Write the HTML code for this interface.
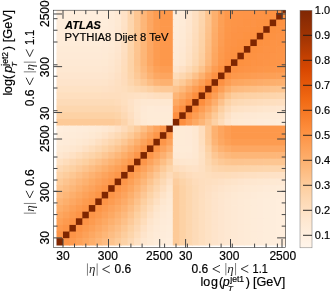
<!DOCTYPE html>
<html><head><meta charset="utf-8"><title>corr</title>
<style>
html,body{margin:0;padding:0;background:#fff;}
body{width:332px;height:293px;overflow:hidden;font-family:"Liberation Sans",sans-serif;}
svg{display:block;will-change:transform;}
svg text{font-family:"Liberation Sans",sans-serif;stroke:#000;stroke-width:0.18px;}
.it{font-style:italic;}
svg text.eta{font-family:"Liberation Serif",serif;font-style:italic;stroke:none;}
</style></head><body>
<svg width="332" height="293" viewBox="0 0 332 293" font-size="11" fill="#000">
<rect x="0" y="0" width="332" height="293" fill="#ffffff"/>
<defs><clipPath id="fc"><rect x="53.50" y="10.20" width="232.20" height="237.40"/></clipPath>
<filter id="bl" x="-5%" y="-5%" width="110%" height="110%"><feGaussianBlur stdDeviation="0.45"/></filter><linearGradient id="cb" x1="0" y1="0" x2="0" y2="1"><stop offset="0.0000" stop-color="#7f2704"/><stop offset="0.0250" stop-color="#872a04"/><stop offset="0.0500" stop-color="#8f2d04"/><stop offset="0.0750" stop-color="#963003"/><stop offset="0.1000" stop-color="#9e3303"/><stop offset="0.1250" stop-color="#a63603"/><stop offset="0.1500" stop-color="#b03a03"/><stop offset="0.1750" stop-color="#ba3d02"/><stop offset="0.2000" stop-color="#c54102"/><stop offset="0.2250" stop-color="#cf4401"/><stop offset="0.2500" stop-color="#d94801"/><stop offset="0.2750" stop-color="#de4f05"/><stop offset="0.3000" stop-color="#e35508"/><stop offset="0.3250" stop-color="#e75c0c"/><stop offset="0.3500" stop-color="#ec620f"/><stop offset="0.3750" stop-color="#f16913"/><stop offset="0.4000" stop-color="#f3701b"/><stop offset="0.4250" stop-color="#f67723"/><stop offset="0.4500" stop-color="#f87f2c"/><stop offset="0.4750" stop-color="#fb8634"/><stop offset="0.5000" stop-color="#fd8d3c"/><stop offset="0.5250" stop-color="#fd9445"/><stop offset="0.5500" stop-color="#fd9a4f"/><stop offset="0.5750" stop-color="#fda158"/><stop offset="0.6000" stop-color="#fda762"/><stop offset="0.6250" stop-color="#fdae6b"/><stop offset="0.6500" stop-color="#fdb576"/><stop offset="0.6750" stop-color="#fdbc81"/><stop offset="0.7000" stop-color="#fdc28c"/><stop offset="0.7250" stop-color="#fdc997"/><stop offset="0.7500" stop-color="#fdd0a2"/><stop offset="0.7750" stop-color="#fdd4ab"/><stop offset="0.8000" stop-color="#fdd9b4"/><stop offset="0.8250" stop-color="#feddbc"/><stop offset="0.8500" stop-color="#fee2c5"/><stop offset="0.8750" stop-color="#fee6ce"/><stop offset="0.9000" stop-color="#fee9d4"/><stop offset="0.9250" stop-color="#feecda"/><stop offset="0.9500" stop-color="#ffefdf"/><stop offset="0.9750" stop-color="#fff2e5"/><stop offset="1.0000" stop-color="#fff5eb"/></linearGradient></defs>
<g clip-path="url(#fc)"><g filter="url(#bl)">
<rect x="56.50" y="6.30" width="45.93" height="7.33" fill="#ffeedd"/><rect x="101.73" y="6.30" width="7.16" height="7.33" fill="#feeddc"/><rect x="108.19" y="6.30" width="7.16" height="7.33" fill="#feecda"/><rect x="114.65" y="6.30" width="7.16" height="7.33" fill="#fee9d4"/><rect x="121.11" y="6.30" width="7.16" height="7.33" fill="#fee3c7"/><rect x="127.57" y="6.30" width="7.16" height="7.33" fill="#fdd6af"/><rect x="134.03" y="6.30" width="7.16" height="7.33" fill="#fdc693"/><rect x="140.49" y="6.30" width="7.16" height="7.33" fill="#fdb679"/><rect x="146.95" y="6.30" width="7.16" height="7.33" fill="#fda762"/><rect x="153.42" y="6.30" width="7.16" height="7.33" fill="#fd9c51"/><rect x="159.88" y="6.30" width="13.62" height="7.33" fill="#fd984c"/><rect x="172.80" y="6.30" width="7.16" height="7.33" fill="#feeddc"/><rect x="179.26" y="6.30" width="7.16" height="7.33" fill="#feecd9"/><rect x="185.72" y="6.30" width="7.16" height="7.33" fill="#fee7d1"/><rect x="192.18" y="6.30" width="7.16" height="7.33" fill="#fee0c2"/><rect x="198.64" y="6.30" width="7.16" height="7.33" fill="#fdd6af"/><rect x="205.10" y="6.30" width="7.16" height="7.33" fill="#fdc692"/><rect x="211.56" y="6.30" width="7.16" height="7.33" fill="#fdb170"/><rect x="218.03" y="6.30" width="7.16" height="7.33" fill="#fda25a"/><rect x="224.49" y="6.30" width="7.16" height="7.33" fill="#fd994d"/><rect x="230.95" y="6.30" width="7.16" height="7.33" fill="#fd9649"/><rect x="237.41" y="6.30" width="7.16" height="7.33" fill="#fd9548"/><rect x="243.87" y="6.30" width="7.16" height="7.33" fill="#fd9547"/><rect x="250.33" y="6.30" width="7.16" height="7.33" fill="#fd9446"/><rect x="256.79" y="6.30" width="7.16" height="7.33" fill="#fd9345"/><rect x="263.25" y="6.30" width="7.16" height="7.33" fill="#fd9344"/><rect x="269.71" y="6.30" width="7.16" height="7.33" fill="#fd9243"/><rect x="276.17" y="6.30" width="7.16" height="7.33" fill="#fd9141"/><rect x="282.63" y="6.30" width="7.16" height="7.33" fill="#7f2704"/>
<rect x="56.50" y="12.93" width="45.93" height="7.33" fill="#ffeedd"/><rect x="101.73" y="12.93" width="7.16" height="7.33" fill="#feeddc"/><rect x="108.19" y="12.93" width="7.16" height="7.33" fill="#feecd9"/><rect x="114.65" y="12.93" width="7.16" height="7.33" fill="#fee9d4"/><rect x="121.11" y="12.93" width="7.16" height="7.33" fill="#fee2c7"/><rect x="127.57" y="12.93" width="7.16" height="7.33" fill="#fdd6ae"/><rect x="134.03" y="12.93" width="7.16" height="7.33" fill="#fdc692"/><rect x="140.49" y="12.93" width="7.16" height="7.33" fill="#fdb679"/><rect x="146.95" y="12.93" width="7.16" height="7.33" fill="#fda762"/><rect x="153.42" y="12.93" width="7.16" height="7.33" fill="#fd9c51"/><rect x="159.88" y="12.93" width="13.62" height="7.33" fill="#fd984c"/><rect x="172.80" y="12.93" width="7.16" height="7.33" fill="#feeddb"/><rect x="179.26" y="12.93" width="7.16" height="7.33" fill="#feebd8"/><rect x="185.72" y="12.93" width="7.16" height="7.33" fill="#fee7d0"/><rect x="192.18" y="12.93" width="7.16" height="7.33" fill="#fedfc1"/><rect x="198.64" y="12.93" width="7.16" height="7.33" fill="#fdd6ae"/><rect x="205.10" y="12.93" width="7.16" height="7.33" fill="#fdc590"/><rect x="211.56" y="12.93" width="7.16" height="7.33" fill="#fdb06e"/><rect x="218.03" y="12.93" width="7.16" height="7.33" fill="#fda159"/><rect x="224.49" y="12.93" width="7.16" height="7.33" fill="#fd984c"/><rect x="230.95" y="12.93" width="7.16" height="7.33" fill="#fd9548"/><rect x="237.41" y="12.93" width="7.16" height="7.33" fill="#fd9547"/><rect x="243.87" y="12.93" width="7.16" height="7.33" fill="#fd9446"/><rect x="250.33" y="12.93" width="7.16" height="7.33" fill="#fd9345"/><rect x="256.79" y="12.93" width="7.16" height="7.33" fill="#fd9344"/><rect x="263.25" y="12.93" width="7.16" height="7.33" fill="#fd9243"/><rect x="269.71" y="12.93" width="7.16" height="7.33" fill="#fd9141"/><rect x="276.17" y="12.93" width="7.16" height="7.33" fill="#7f2704"/><rect x="282.63" y="12.93" width="7.16" height="7.33" fill="#fd9141"/>
<rect x="56.50" y="19.55" width="45.93" height="7.33" fill="#feeddc"/><rect x="101.73" y="19.55" width="7.16" height="7.33" fill="#feeddb"/><rect x="108.19" y="19.55" width="7.16" height="7.33" fill="#feebd8"/><rect x="114.65" y="19.55" width="7.16" height="7.33" fill="#fee9d3"/><rect x="121.11" y="19.55" width="7.16" height="7.33" fill="#fee2c6"/><rect x="127.57" y="19.55" width="7.16" height="7.33" fill="#fdd6ae"/><rect x="134.03" y="19.55" width="7.16" height="7.33" fill="#fdc692"/><rect x="140.49" y="19.55" width="7.16" height="7.33" fill="#fdb678"/><rect x="146.95" y="19.55" width="7.16" height="7.33" fill="#fda762"/><rect x="153.42" y="19.55" width="7.16" height="7.33" fill="#fd9c51"/><rect x="159.88" y="19.55" width="13.62" height="7.33" fill="#fd984c"/><rect x="172.80" y="19.55" width="7.16" height="7.33" fill="#feecda"/><rect x="179.26" y="19.55" width="7.16" height="7.33" fill="#feebd7"/><rect x="185.72" y="19.55" width="7.16" height="7.33" fill="#fee6cf"/><rect x="192.18" y="19.55" width="7.16" height="7.33" fill="#fedfbf"/><rect x="198.64" y="19.55" width="7.16" height="7.33" fill="#fdd5ac"/><rect x="205.10" y="19.55" width="7.16" height="7.33" fill="#fdc48e"/><rect x="211.56" y="19.55" width="7.16" height="7.33" fill="#fdaf6d"/><rect x="218.03" y="19.55" width="7.16" height="7.33" fill="#fda057"/><rect x="224.49" y="19.55" width="7.16" height="7.33" fill="#fd974b"/><rect x="230.95" y="19.55" width="7.16" height="7.33" fill="#fd9547"/><rect x="237.41" y="19.55" width="7.16" height="7.33" fill="#fd9446"/><rect x="243.87" y="19.55" width="7.16" height="7.33" fill="#fd9345"/><rect x="250.33" y="19.55" width="7.16" height="7.33" fill="#fd9344"/><rect x="256.79" y="19.55" width="7.16" height="7.33" fill="#fd9243"/><rect x="263.25" y="19.55" width="7.16" height="7.33" fill="#fd9141"/><rect x="269.71" y="19.55" width="7.16" height="7.33" fill="#7f2704"/><rect x="276.17" y="19.55" width="7.16" height="7.33" fill="#fd9141"/><rect x="282.63" y="19.55" width="7.16" height="7.33" fill="#fd9243"/>
<rect x="56.50" y="26.18" width="45.93" height="7.33" fill="#feeddb"/><rect x="101.73" y="26.18" width="7.16" height="7.33" fill="#feecda"/><rect x="108.19" y="26.18" width="7.16" height="7.33" fill="#feebd8"/><rect x="114.65" y="26.18" width="7.16" height="7.33" fill="#fee8d2"/><rect x="121.11" y="26.18" width="7.16" height="7.33" fill="#fee1c5"/><rect x="127.57" y="26.18" width="7.16" height="7.33" fill="#fdd6ad"/><rect x="134.03" y="26.18" width="7.16" height="7.33" fill="#fdc691"/><rect x="140.49" y="26.18" width="7.16" height="7.33" fill="#fdb678"/><rect x="146.95" y="26.18" width="7.16" height="7.33" fill="#fda762"/><rect x="153.42" y="26.18" width="7.16" height="7.33" fill="#fd9c51"/><rect x="159.88" y="26.18" width="13.62" height="7.33" fill="#fd984c"/><rect x="172.80" y="26.18" width="7.16" height="7.33" fill="#feecd9"/><rect x="179.26" y="26.18" width="7.16" height="7.33" fill="#feead6"/><rect x="185.72" y="26.18" width="7.16" height="7.33" fill="#fee6ce"/><rect x="192.18" y="26.18" width="7.16" height="7.33" fill="#fedebe"/><rect x="198.64" y="26.18" width="7.16" height="7.33" fill="#fdd4aa"/><rect x="205.10" y="26.18" width="7.16" height="7.33" fill="#fdc28c"/><rect x="211.56" y="26.18" width="7.16" height="7.33" fill="#fdae6b"/><rect x="218.03" y="26.18" width="7.16" height="7.33" fill="#fd9f56"/><rect x="224.49" y="26.18" width="7.16" height="7.33" fill="#fd974a"/><rect x="230.95" y="26.18" width="7.16" height="7.33" fill="#fd9446"/><rect x="237.41" y="26.18" width="7.16" height="7.33" fill="#fd9345"/><rect x="243.87" y="26.18" width="7.16" height="7.33" fill="#fd9344"/><rect x="250.33" y="26.18" width="7.16" height="7.33" fill="#fd9243"/><rect x="256.79" y="26.18" width="7.16" height="7.33" fill="#fd9141"/><rect x="263.25" y="26.18" width="7.16" height="7.33" fill="#7f2704"/><rect x="269.71" y="26.18" width="7.16" height="7.33" fill="#fd9141"/><rect x="276.17" y="26.18" width="7.16" height="7.33" fill="#fd9243"/><rect x="282.63" y="26.18" width="7.16" height="7.33" fill="#fd9344"/>
<rect x="56.50" y="32.80" width="45.93" height="7.33" fill="#feecda"/><rect x="101.73" y="32.80" width="7.16" height="7.33" fill="#feecd9"/><rect x="108.19" y="32.80" width="7.16" height="7.33" fill="#feead6"/><rect x="114.65" y="32.80" width="7.16" height="7.33" fill="#fee8d1"/><rect x="121.11" y="32.80" width="7.16" height="7.33" fill="#fee1c4"/><rect x="127.57" y="32.80" width="7.16" height="7.33" fill="#fdd5ac"/><rect x="134.03" y="32.80" width="7.16" height="7.33" fill="#fdc591"/><rect x="140.49" y="32.80" width="7.16" height="7.33" fill="#fdb678"/><rect x="146.95" y="32.80" width="7.16" height="7.33" fill="#fda762"/><rect x="153.42" y="32.80" width="7.16" height="7.33" fill="#fd9c51"/><rect x="159.88" y="32.80" width="13.62" height="7.33" fill="#fd984c"/><rect x="172.80" y="32.80" width="7.16" height="7.33" fill="#feebd9"/><rect x="179.26" y="32.80" width="7.16" height="7.33" fill="#feead5"/><rect x="185.72" y="32.80" width="7.16" height="7.33" fill="#fee5cc"/><rect x="192.18" y="32.80" width="7.16" height="7.33" fill="#feddbc"/><rect x="198.64" y="32.80" width="7.16" height="7.33" fill="#fdd3a8"/><rect x="205.10" y="32.80" width="7.16" height="7.33" fill="#fdc189"/><rect x="211.56" y="32.80" width="7.16" height="7.33" fill="#fdac69"/><rect x="218.03" y="32.80" width="7.16" height="7.33" fill="#fd9e54"/><rect x="224.49" y="32.80" width="7.16" height="7.33" fill="#fd9649"/><rect x="230.95" y="32.80" width="7.16" height="7.33" fill="#fd9345"/><rect x="237.41" y="32.80" width="7.16" height="7.33" fill="#fd9344"/><rect x="243.87" y="32.80" width="7.16" height="7.33" fill="#fd9243"/><rect x="250.33" y="32.80" width="7.16" height="7.33" fill="#fd9141"/><rect x="256.79" y="32.80" width="7.16" height="7.33" fill="#7f2704"/><rect x="263.25" y="32.80" width="7.16" height="7.33" fill="#fd9141"/><rect x="269.71" y="32.80" width="7.16" height="7.33" fill="#fd9243"/><rect x="276.17" y="32.80" width="7.16" height="7.33" fill="#fd9344"/><rect x="282.63" y="32.80" width="7.16" height="7.33" fill="#fd9345"/>
<rect x="56.50" y="39.43" width="45.93" height="7.33" fill="#feecd9"/><rect x="101.73" y="39.43" width="7.16" height="7.33" fill="#feebd8"/><rect x="108.19" y="39.43" width="7.16" height="7.33" fill="#feead5"/><rect x="114.65" y="39.43" width="7.16" height="7.33" fill="#fee7d0"/><rect x="121.11" y="39.43" width="7.16" height="7.33" fill="#fee0c2"/><rect x="127.57" y="39.43" width="7.16" height="7.33" fill="#fdd5ab"/><rect x="134.03" y="39.43" width="7.16" height="7.33" fill="#fdc590"/><rect x="140.49" y="39.43" width="7.16" height="7.33" fill="#fdb678"/><rect x="146.95" y="39.43" width="7.16" height="7.33" fill="#fda762"/><rect x="153.42" y="39.43" width="7.16" height="7.33" fill="#fd9c51"/><rect x="159.88" y="39.43" width="13.62" height="7.33" fill="#fd984c"/><rect x="172.80" y="39.43" width="7.16" height="7.33" fill="#feebd7"/><rect x="179.26" y="39.43" width="7.16" height="7.33" fill="#fee9d4"/><rect x="185.72" y="39.43" width="7.16" height="7.33" fill="#fee4ca"/><rect x="192.18" y="39.43" width="7.16" height="7.33" fill="#fedcba"/><rect x="198.64" y="39.43" width="7.16" height="7.33" fill="#fdd2a6"/><rect x="205.10" y="39.43" width="7.16" height="7.33" fill="#fdbf86"/><rect x="211.56" y="39.43" width="7.16" height="7.33" fill="#fdab66"/><rect x="218.03" y="39.43" width="7.16" height="7.33" fill="#fd9d52"/><rect x="224.49" y="39.43" width="7.16" height="7.33" fill="#fd9547"/><rect x="230.95" y="39.43" width="7.16" height="7.33" fill="#fd9344"/><rect x="237.41" y="39.43" width="7.16" height="7.33" fill="#fd9243"/><rect x="243.87" y="39.43" width="7.16" height="7.33" fill="#fd9141"/><rect x="250.33" y="39.43" width="7.16" height="7.33" fill="#7f2704"/><rect x="256.79" y="39.43" width="7.16" height="7.33" fill="#fd9141"/><rect x="263.25" y="39.43" width="7.16" height="7.33" fill="#fd9243"/><rect x="269.71" y="39.43" width="7.16" height="7.33" fill="#fd9344"/><rect x="276.17" y="39.43" width="7.16" height="7.33" fill="#fd9345"/><rect x="282.63" y="39.43" width="7.16" height="7.33" fill="#fd9446"/>
<rect x="56.50" y="46.05" width="45.93" height="7.33" fill="#feebd7"/><rect x="101.73" y="46.05" width="7.16" height="7.33" fill="#feead6"/><rect x="108.19" y="46.05" width="7.16" height="7.33" fill="#fee9d4"/><rect x="114.65" y="46.05" width="7.16" height="7.33" fill="#fee6cf"/><rect x="121.11" y="46.05" width="7.16" height="7.33" fill="#fedfc1"/><rect x="127.57" y="46.05" width="7.16" height="7.33" fill="#fdd4aa"/><rect x="134.03" y="46.05" width="7.16" height="7.33" fill="#fdc590"/><rect x="140.49" y="46.05" width="7.16" height="7.33" fill="#fdb678"/><rect x="146.95" y="46.05" width="7.16" height="7.33" fill="#fda762"/><rect x="153.42" y="46.05" width="7.16" height="7.33" fill="#fd9c51"/><rect x="159.88" y="46.05" width="13.62" height="7.33" fill="#fd984c"/><rect x="172.80" y="46.05" width="7.16" height="7.33" fill="#feead6"/><rect x="179.26" y="46.05" width="7.16" height="7.33" fill="#fee8d3"/><rect x="185.72" y="46.05" width="7.16" height="7.33" fill="#fee3c8"/><rect x="192.18" y="46.05" width="7.16" height="7.33" fill="#fddbb8"/><rect x="198.64" y="46.05" width="7.16" height="7.33" fill="#fdd1a4"/><rect x="205.10" y="46.05" width="7.16" height="7.33" fill="#fdbd83"/><rect x="211.56" y="46.05" width="7.16" height="7.33" fill="#fda964"/><rect x="218.03" y="46.05" width="7.16" height="7.33" fill="#fd9b50"/><rect x="224.49" y="46.05" width="7.16" height="7.33" fill="#fd9446"/><rect x="230.95" y="46.05" width="7.16" height="7.33" fill="#fd9243"/><rect x="237.41" y="46.05" width="7.16" height="7.33" fill="#fd9141"/><rect x="243.87" y="46.05" width="7.16" height="7.33" fill="#7f2704"/><rect x="250.33" y="46.05" width="7.16" height="7.33" fill="#fd9141"/><rect x="256.79" y="46.05" width="7.16" height="7.33" fill="#fd9243"/><rect x="263.25" y="46.05" width="7.16" height="7.33" fill="#fd9344"/><rect x="269.71" y="46.05" width="7.16" height="7.33" fill="#fd9345"/><rect x="276.17" y="46.05" width="7.16" height="7.33" fill="#fd9446"/><rect x="282.63" y="46.05" width="7.16" height="7.33" fill="#fd9547"/>
<rect x="56.50" y="52.68" width="45.93" height="7.33" fill="#feead6"/><rect x="101.73" y="52.68" width="7.16" height="7.33" fill="#feead5"/><rect x="108.19" y="52.68" width="7.16" height="7.33" fill="#fee8d2"/><rect x="114.65" y="52.68" width="7.16" height="7.33" fill="#fee5cd"/><rect x="121.11" y="52.68" width="7.16" height="7.33" fill="#fedebf"/><rect x="127.57" y="52.68" width="7.16" height="7.33" fill="#fdd4a9"/><rect x="134.03" y="52.68" width="7.16" height="7.33" fill="#fdc48f"/><rect x="140.49" y="52.68" width="7.16" height="7.33" fill="#fdb678"/><rect x="146.95" y="52.68" width="7.16" height="7.33" fill="#fda762"/><rect x="153.42" y="52.68" width="7.16" height="7.33" fill="#fd9c51"/><rect x="159.88" y="52.68" width="13.62" height="7.33" fill="#fd984c"/><rect x="172.80" y="52.68" width="7.16" height="7.33" fill="#feead5"/><rect x="179.26" y="52.68" width="7.16" height="7.33" fill="#fee8d1"/><rect x="185.72" y="52.68" width="7.16" height="7.33" fill="#fee2c6"/><rect x="192.18" y="52.68" width="7.16" height="7.33" fill="#fddab5"/><rect x="198.64" y="52.68" width="7.16" height="7.33" fill="#fdcfa1"/><rect x="205.10" y="52.68" width="7.16" height="7.33" fill="#fdbb80"/><rect x="211.56" y="52.68" width="7.16" height="7.33" fill="#fda761"/><rect x="218.03" y="52.68" width="7.16" height="7.33" fill="#fd9a4e"/><rect x="224.49" y="52.68" width="7.16" height="7.33" fill="#fd9344"/><rect x="230.95" y="52.68" width="7.16" height="7.33" fill="#fd9141"/><rect x="237.41" y="52.68" width="7.16" height="7.33" fill="#7f2704"/><rect x="243.87" y="52.68" width="7.16" height="7.33" fill="#fd9141"/><rect x="250.33" y="52.68" width="7.16" height="7.33" fill="#fd9243"/><rect x="256.79" y="52.68" width="7.16" height="7.33" fill="#fd9344"/><rect x="263.25" y="52.68" width="7.16" height="7.33" fill="#fd9345"/><rect x="269.71" y="52.68" width="7.16" height="7.33" fill="#fd9446"/><rect x="276.17" y="52.68" width="7.16" height="7.33" fill="#fd9547"/><rect x="282.63" y="52.68" width="7.16" height="7.33" fill="#fd9548"/>
<rect x="56.50" y="59.30" width="45.93" height="7.33" fill="#fee9d4"/><rect x="101.73" y="59.30" width="7.16" height="7.33" fill="#fee9d3"/><rect x="108.19" y="59.30" width="7.16" height="7.33" fill="#fee7d0"/><rect x="114.65" y="59.30" width="7.16" height="7.33" fill="#fee4ca"/><rect x="121.11" y="59.30" width="7.16" height="7.33" fill="#feddbd"/><rect x="127.57" y="59.30" width="7.16" height="7.33" fill="#fdd3a8"/><rect x="134.03" y="59.30" width="7.16" height="7.33" fill="#fdc48e"/><rect x="140.49" y="59.30" width="7.16" height="7.33" fill="#fdb677"/><rect x="146.95" y="59.30" width="7.16" height="7.33" fill="#fda762"/><rect x="153.42" y="59.30" width="7.16" height="7.33" fill="#fd9c51"/><rect x="159.88" y="59.30" width="13.62" height="7.33" fill="#fd984c"/><rect x="172.80" y="59.30" width="7.16" height="7.33" fill="#fee9d4"/><rect x="179.26" y="59.30" width="7.16" height="7.33" fill="#fee7d0"/><rect x="185.72" y="59.30" width="7.16" height="7.33" fill="#fee1c3"/><rect x="192.18" y="59.30" width="7.16" height="7.33" fill="#fdd8b2"/><rect x="198.64" y="59.30" width="7.16" height="7.33" fill="#fdcd9d"/><rect x="205.10" y="59.30" width="7.16" height="7.33" fill="#fdb97c"/><rect x="211.56" y="59.30" width="7.16" height="7.33" fill="#fda55e"/><rect x="218.03" y="59.30" width="7.16" height="7.33" fill="#fd984b"/><rect x="224.49" y="59.30" width="7.16" height="7.33" fill="#fd9142"/><rect x="230.95" y="59.30" width="7.16" height="7.33" fill="#7f2704"/><rect x="237.41" y="59.30" width="7.16" height="7.33" fill="#fd9141"/><rect x="243.87" y="59.30" width="7.16" height="7.33" fill="#fd9243"/><rect x="250.33" y="59.30" width="7.16" height="7.33" fill="#fd9344"/><rect x="256.79" y="59.30" width="7.16" height="7.33" fill="#fd9345"/><rect x="263.25" y="59.30" width="7.16" height="7.33" fill="#fd9446"/><rect x="269.71" y="59.30" width="7.16" height="7.33" fill="#fd9547"/><rect x="276.17" y="59.30" width="7.16" height="7.33" fill="#fd9548"/><rect x="282.63" y="59.30" width="7.16" height="7.33" fill="#fd9649"/>
<rect x="56.50" y="65.93" width="45.93" height="7.33" fill="#fee8d2"/><rect x="101.73" y="65.93" width="7.16" height="7.33" fill="#fee7d1"/><rect x="108.19" y="65.93" width="7.16" height="7.33" fill="#fee6ce"/><rect x="114.65" y="65.93" width="7.16" height="7.33" fill="#fee3c8"/><rect x="121.11" y="65.93" width="7.16" height="7.33" fill="#feddbb"/><rect x="127.57" y="65.93" width="7.16" height="7.33" fill="#fdd3a8"/><rect x="134.03" y="65.93" width="7.16" height="7.33" fill="#fdc691"/><rect x="140.49" y="65.93" width="7.16" height="7.33" fill="#fdb97d"/><rect x="146.95" y="65.93" width="7.16" height="7.33" fill="#fdac68"/><rect x="153.42" y="65.93" width="7.16" height="7.33" fill="#fda158"/><rect x="159.88" y="65.93" width="13.62" height="7.33" fill="#fd9d53"/><rect x="172.80" y="65.93" width="7.16" height="7.33" fill="#fee5cc"/><rect x="179.26" y="65.93" width="7.16" height="7.33" fill="#fee1c5"/><rect x="185.72" y="65.93" width="7.16" height="7.33" fill="#fddab7"/><rect x="192.18" y="65.93" width="7.16" height="7.33" fill="#fdd2a5"/><rect x="198.64" y="65.93" width="7.16" height="7.33" fill="#fdc38c"/><rect x="205.10" y="65.93" width="7.16" height="7.33" fill="#fdaf6c"/><rect x="211.56" y="65.93" width="7.16" height="7.33" fill="#fd9d53"/><rect x="218.03" y="65.93" width="7.16" height="7.33" fill="#fd9243"/><rect x="224.49" y="65.93" width="7.16" height="7.33" fill="#7f2704"/><rect x="230.95" y="65.93" width="7.16" height="7.33" fill="#fd9142"/><rect x="237.41" y="65.93" width="7.16" height="7.33" fill="#fd9344"/><rect x="243.87" y="65.93" width="7.16" height="7.33" fill="#fd9446"/><rect x="250.33" y="65.93" width="7.16" height="7.33" fill="#fd9547"/><rect x="256.79" y="65.93" width="7.16" height="7.33" fill="#fd9649"/><rect x="263.25" y="65.93" width="7.16" height="7.33" fill="#fd974a"/><rect x="269.71" y="65.93" width="7.16" height="7.33" fill="#fd974b"/><rect x="276.17" y="65.93" width="7.16" height="7.33" fill="#fd984c"/><rect x="282.63" y="65.93" width="7.16" height="7.33" fill="#fd994d"/>
<rect x="56.50" y="72.55" width="45.93" height="7.33" fill="#fee6cf"/><rect x="101.73" y="72.55" width="7.16" height="7.33" fill="#fee6ce"/><rect x="108.19" y="72.55" width="7.16" height="7.33" fill="#fee4cb"/><rect x="114.65" y="72.55" width="7.16" height="7.33" fill="#fee1c5"/><rect x="121.11" y="72.55" width="7.16" height="7.33" fill="#fedcbb"/><rect x="127.57" y="72.55" width="7.16" height="7.33" fill="#fdd4aa"/><rect x="134.03" y="72.55" width="7.16" height="7.33" fill="#fdc997"/><rect x="140.49" y="72.55" width="7.16" height="7.33" fill="#fdbe86"/><rect x="146.95" y="72.55" width="7.16" height="7.33" fill="#fdb272"/><rect x="153.42" y="72.55" width="7.16" height="7.33" fill="#fda863"/><rect x="159.88" y="72.55" width="13.62" height="7.33" fill="#fda55e"/><rect x="172.80" y="72.55" width="7.16" height="7.33" fill="#fedcb9"/><rect x="179.26" y="72.55" width="7.16" height="7.33" fill="#fdd7b0"/><rect x="185.72" y="72.55" width="7.16" height="7.33" fill="#fdcfa1"/><rect x="192.18" y="72.55" width="7.16" height="7.33" fill="#fdc18a"/><rect x="198.64" y="72.55" width="7.16" height="7.33" fill="#fdb170"/><rect x="205.10" y="72.55" width="7.16" height="7.33" fill="#fd9f56"/><rect x="211.56" y="72.55" width="7.16" height="7.33" fill="#fd9142"/><rect x="218.03" y="72.55" width="7.16" height="7.33" fill="#7f2704"/><rect x="224.49" y="72.55" width="7.16" height="7.33" fill="#fd9243"/><rect x="230.95" y="72.55" width="7.16" height="7.33" fill="#fd984b"/><rect x="237.41" y="72.55" width="7.16" height="7.33" fill="#fd9a4e"/><rect x="243.87" y="72.55" width="7.16" height="7.33" fill="#fd9b50"/><rect x="250.33" y="72.55" width="7.16" height="7.33" fill="#fd9d52"/><rect x="256.79" y="72.55" width="7.16" height="7.33" fill="#fd9e54"/><rect x="263.25" y="72.55" width="7.16" height="7.33" fill="#fd9f56"/><rect x="269.71" y="72.55" width="7.16" height="7.33" fill="#fda057"/><rect x="276.17" y="72.55" width="7.16" height="7.33" fill="#fda159"/><rect x="282.63" y="72.55" width="7.16" height="7.33" fill="#fda25a"/>
<rect x="56.50" y="79.18" width="45.93" height="7.33" fill="#fee4cb"/><rect x="101.73" y="79.18" width="7.16" height="7.33" fill="#fee4ca"/><rect x="108.19" y="79.18" width="7.16" height="7.33" fill="#fee2c7"/><rect x="114.65" y="79.18" width="7.16" height="7.33" fill="#fee0c2"/><rect x="121.11" y="79.18" width="7.16" height="7.33" fill="#fedcbb"/><rect x="127.57" y="79.18" width="7.16" height="7.33" fill="#fdd6ae"/><rect x="134.03" y="79.18" width="7.16" height="7.33" fill="#fdcfa1"/><rect x="140.49" y="79.18" width="7.16" height="7.33" fill="#fdc793"/><rect x="146.95" y="79.18" width="7.16" height="7.33" fill="#fdbd83"/><rect x="153.42" y="79.18" width="7.16" height="7.33" fill="#fdb475"/><rect x="159.88" y="79.18" width="13.62" height="7.33" fill="#fdb170"/><rect x="172.80" y="79.18" width="7.16" height="7.33" fill="#fdd1a5"/><rect x="179.26" y="79.18" width="7.16" height="7.33" fill="#fdca98"/><rect x="185.72" y="79.18" width="7.16" height="7.33" fill="#fdbd83"/><rect x="192.18" y="79.18" width="7.16" height="7.33" fill="#fdae6c"/><rect x="198.64" y="79.18" width="7.16" height="7.33" fill="#fd9f56"/><rect x="205.10" y="79.18" width="7.16" height="7.33" fill="#fd9040"/><rect x="211.56" y="79.18" width="7.16" height="7.33" fill="#7f2704"/><rect x="218.03" y="79.18" width="7.16" height="7.33" fill="#fd9142"/><rect x="224.49" y="79.18" width="7.16" height="7.33" fill="#fd9d53"/><rect x="230.95" y="79.18" width="7.16" height="7.33" fill="#fda55e"/><rect x="237.41" y="79.18" width="7.16" height="7.33" fill="#fda761"/><rect x="243.87" y="79.18" width="7.16" height="7.33" fill="#fda964"/><rect x="250.33" y="79.18" width="7.16" height="7.33" fill="#fdab66"/><rect x="256.79" y="79.18" width="7.16" height="7.33" fill="#fdac69"/><rect x="263.25" y="79.18" width="7.16" height="7.33" fill="#fdae6b"/><rect x="269.71" y="79.18" width="7.16" height="7.33" fill="#fdaf6d"/><rect x="276.17" y="79.18" width="7.16" height="7.33" fill="#fdb06e"/><rect x="282.63" y="79.18" width="7.16" height="7.33" fill="#fdb170"/>
<rect x="56.50" y="85.80" width="45.93" height="7.33" fill="#fee2c5"/><rect x="101.73" y="85.80" width="7.16" height="7.33" fill="#fee1c5"/><rect x="108.19" y="85.80" width="7.16" height="7.33" fill="#fee0c3"/><rect x="114.65" y="85.80" width="7.16" height="7.33" fill="#fedfc0"/><rect x="121.11" y="85.80" width="7.16" height="7.33" fill="#fedebd"/><rect x="127.57" y="85.80" width="7.16" height="7.33" fill="#fddbb7"/><rect x="134.03" y="85.80" width="7.16" height="7.33" fill="#fdd8b1"/><rect x="140.49" y="85.80" width="7.16" height="7.33" fill="#fdd5ac"/><rect x="146.95" y="85.80" width="7.16" height="7.33" fill="#fdd1a4"/><rect x="153.42" y="85.80" width="7.16" height="7.33" fill="#fdcb9a"/><rect x="159.88" y="85.80" width="13.62" height="7.33" fill="#fdc997"/><rect x="172.80" y="85.80" width="7.16" height="7.33" fill="#fdc38c"/><rect x="179.26" y="85.80" width="7.16" height="7.33" fill="#fdb97c"/><rect x="185.72" y="85.80" width="7.16" height="7.33" fill="#fdab67"/><rect x="192.18" y="85.80" width="7.16" height="7.33" fill="#fd9d53"/><rect x="198.64" y="85.80" width="7.16" height="7.33" fill="#fd8f3e"/><rect x="205.10" y="85.80" width="7.16" height="7.33" fill="#7f2704"/><rect x="211.56" y="85.80" width="7.16" height="7.33" fill="#fd9040"/><rect x="218.03" y="85.80" width="7.16" height="7.33" fill="#fd9f56"/><rect x="224.49" y="85.80" width="7.16" height="7.33" fill="#fdaf6c"/><rect x="230.95" y="85.80" width="7.16" height="7.33" fill="#fdb97c"/><rect x="237.41" y="85.80" width="7.16" height="7.33" fill="#fdbb80"/><rect x="243.87" y="85.80" width="7.16" height="7.33" fill="#fdbd83"/><rect x="250.33" y="85.80" width="7.16" height="7.33" fill="#fdbf86"/><rect x="256.79" y="85.80" width="7.16" height="7.33" fill="#fdc189"/><rect x="263.25" y="85.80" width="7.16" height="7.33" fill="#fdc28c"/><rect x="269.71" y="85.80" width="7.16" height="7.33" fill="#fdc48e"/><rect x="276.17" y="85.80" width="7.16" height="7.33" fill="#fdc590"/><rect x="282.63" y="85.80" width="7.16" height="7.33" fill="#fdc692"/>
<rect x="56.50" y="92.43" width="45.93" height="7.33" fill="#fedfbf"/><rect x="101.73" y="92.43" width="7.16" height="7.33" fill="#fedebf"/><rect x="108.19" y="92.43" width="13.62" height="7.33" fill="#fedebe"/><rect x="121.11" y="92.43" width="7.16" height="7.33" fill="#fedfc0"/><rect x="127.57" y="92.43" width="7.16" height="7.33" fill="#fee0c2"/><rect x="134.03" y="92.43" width="7.16" height="7.33" fill="#fee1c4"/><rect x="140.49" y="92.43" width="7.16" height="7.33" fill="#fee2c5"/><rect x="146.95" y="92.43" width="7.16" height="7.33" fill="#fee0c3"/><rect x="153.42" y="92.43" width="7.16" height="7.33" fill="#fedfbf"/><rect x="159.88" y="92.43" width="13.62" height="7.33" fill="#fedebe"/><rect x="172.80" y="92.43" width="7.16" height="7.33" fill="#fdb576"/><rect x="179.26" y="92.43" width="7.16" height="7.33" fill="#fdaa65"/><rect x="185.72" y="92.43" width="7.16" height="7.33" fill="#fd9d52"/><rect x="192.18" y="92.43" width="7.16" height="7.33" fill="#fd8e3e"/><rect x="198.64" y="92.43" width="7.16" height="7.33" fill="#7f2704"/><rect x="205.10" y="92.43" width="7.16" height="7.33" fill="#fd8f3e"/><rect x="211.56" y="92.43" width="7.16" height="7.33" fill="#fd9f56"/><rect x="218.03" y="92.43" width="7.16" height="7.33" fill="#fdb170"/><rect x="224.49" y="92.43" width="7.16" height="7.33" fill="#fdc38c"/><rect x="230.95" y="92.43" width="7.16" height="7.33" fill="#fdcd9d"/><rect x="237.41" y="92.43" width="7.16" height="7.33" fill="#fdcfa1"/><rect x="243.87" y="92.43" width="7.16" height="7.33" fill="#fdd1a4"/><rect x="250.33" y="92.43" width="7.16" height="7.33" fill="#fdd2a6"/><rect x="256.79" y="92.43" width="7.16" height="7.33" fill="#fdd3a8"/><rect x="263.25" y="92.43" width="7.16" height="7.33" fill="#fdd4aa"/><rect x="269.71" y="92.43" width="7.16" height="7.33" fill="#fdd5ac"/><rect x="276.17" y="92.43" width="7.16" height="7.33" fill="#fdd6ae"/><rect x="282.63" y="92.43" width="7.16" height="7.33" fill="#fdd6af"/>
<rect x="56.50" y="99.05" width="52.39" height="7.33" fill="#fddbb8"/><rect x="108.19" y="99.05" width="7.16" height="7.33" fill="#fddbb7"/><rect x="114.65" y="99.05" width="7.16" height="7.33" fill="#fedcba"/><rect x="121.11" y="99.05" width="7.16" height="7.33" fill="#fedfbf"/><rect x="127.57" y="99.05" width="7.16" height="7.33" fill="#fee2c7"/><rect x="134.03" y="99.05" width="7.16" height="7.33" fill="#fee6ce"/><rect x="140.49" y="99.05" width="7.16" height="7.33" fill="#fee8d1"/><rect x="146.95" y="99.05" width="13.62" height="7.33" fill="#fee8d2"/><rect x="159.88" y="99.05" width="13.62" height="7.33" fill="#fee8d1"/><rect x="172.80" y="99.05" width="7.16" height="7.33" fill="#fda964"/><rect x="179.26" y="99.05" width="7.16" height="7.33" fill="#fd9d52"/><rect x="185.72" y="99.05" width="7.16" height="7.33" fill="#fd8f3f"/><rect x="192.18" y="99.05" width="7.16" height="7.33" fill="#7f2704"/><rect x="198.64" y="99.05" width="7.16" height="7.33" fill="#fd8e3e"/><rect x="205.10" y="99.05" width="7.16" height="7.33" fill="#fd9d53"/><rect x="211.56" y="99.05" width="7.16" height="7.33" fill="#fdae6c"/><rect x="218.03" y="99.05" width="7.16" height="7.33" fill="#fdc18a"/><rect x="224.49" y="99.05" width="7.16" height="7.33" fill="#fdd2a5"/><rect x="230.95" y="99.05" width="7.16" height="7.33" fill="#fdd8b2"/><rect x="237.41" y="99.05" width="7.16" height="7.33" fill="#fddab5"/><rect x="243.87" y="99.05" width="7.16" height="7.33" fill="#fddbb8"/><rect x="250.33" y="99.05" width="7.16" height="7.33" fill="#fedcba"/><rect x="256.79" y="99.05" width="7.16" height="7.33" fill="#feddbc"/><rect x="263.25" y="99.05" width="7.16" height="7.33" fill="#fedebe"/><rect x="269.71" y="99.05" width="7.16" height="7.33" fill="#fedfbf"/><rect x="276.17" y="99.05" width="7.16" height="7.33" fill="#fedfc1"/><rect x="282.63" y="99.05" width="7.16" height="7.33" fill="#fee0c2"/>
<rect x="56.50" y="105.68" width="58.85" height="7.33" fill="#fdd7af"/><rect x="114.65" y="105.68" width="7.16" height="7.33" fill="#fdd8b2"/><rect x="121.11" y="105.68" width="7.16" height="7.33" fill="#fedcbb"/><rect x="127.57" y="105.68" width="7.16" height="7.33" fill="#fee2c5"/><rect x="134.03" y="105.68" width="7.16" height="7.33" fill="#fee7cf"/><rect x="140.49" y="105.68" width="7.16" height="7.33" fill="#fee9d5"/><rect x="146.95" y="105.68" width="7.16" height="7.33" fill="#feebd7"/><rect x="153.42" y="105.68" width="20.08" height="7.33" fill="#feead7"/><rect x="172.80" y="105.68" width="7.16" height="7.33" fill="#fd9c52"/><rect x="179.26" y="105.68" width="7.16" height="7.33" fill="#fd8f3f"/><rect x="185.72" y="105.68" width="7.16" height="7.33" fill="#7f2704"/><rect x="192.18" y="105.68" width="7.16" height="7.33" fill="#fd8f3f"/><rect x="198.64" y="105.68" width="7.16" height="7.33" fill="#fd9d52"/><rect x="205.10" y="105.68" width="7.16" height="7.33" fill="#fdab67"/><rect x="211.56" y="105.68" width="7.16" height="7.33" fill="#fdbd83"/><rect x="218.03" y="105.68" width="7.16" height="7.33" fill="#fdcfa1"/><rect x="224.49" y="105.68" width="7.16" height="7.33" fill="#fddab7"/><rect x="230.95" y="105.68" width="7.16" height="7.33" fill="#fee1c3"/><rect x="237.41" y="105.68" width="7.16" height="7.33" fill="#fee2c6"/><rect x="243.87" y="105.68" width="7.16" height="7.33" fill="#fee3c8"/><rect x="250.33" y="105.68" width="7.16" height="7.33" fill="#fee4ca"/><rect x="256.79" y="105.68" width="7.16" height="7.33" fill="#fee5cc"/><rect x="263.25" y="105.68" width="7.16" height="7.33" fill="#fee6ce"/><rect x="269.71" y="105.68" width="7.16" height="7.33" fill="#fee6cf"/><rect x="276.17" y="105.68" width="7.16" height="7.33" fill="#fee7d0"/><rect x="282.63" y="105.68" width="7.16" height="7.33" fill="#fee7d1"/>
<rect x="56.50" y="112.30" width="58.85" height="7.33" fill="#fdd2a5"/><rect x="114.65" y="112.30" width="7.16" height="7.33" fill="#fdd4a9"/><rect x="121.11" y="112.30" width="7.16" height="7.33" fill="#fdd9b4"/><rect x="127.57" y="112.30" width="7.16" height="7.33" fill="#fedfc1"/><rect x="134.03" y="112.30" width="7.16" height="7.33" fill="#fee6ce"/><rect x="140.49" y="112.30" width="7.16" height="7.33" fill="#feead5"/><rect x="146.95" y="112.30" width="26.54" height="7.33" fill="#feebd7"/><rect x="172.80" y="112.30" width="7.16" height="7.33" fill="#fd8f3f"/><rect x="179.26" y="112.30" width="7.16" height="7.33" fill="#7f2704"/><rect x="185.72" y="112.30" width="7.16" height="7.33" fill="#fd8f3f"/><rect x="192.18" y="112.30" width="7.16" height="7.33" fill="#fd9d52"/><rect x="198.64" y="112.30" width="7.16" height="7.33" fill="#fdaa65"/><rect x="205.10" y="112.30" width="7.16" height="7.33" fill="#fdb97c"/><rect x="211.56" y="112.30" width="7.16" height="7.33" fill="#fdca98"/><rect x="218.03" y="112.30" width="7.16" height="7.33" fill="#fdd7b0"/><rect x="224.49" y="112.30" width="7.16" height="7.33" fill="#fee1c5"/><rect x="230.95" y="112.30" width="7.16" height="7.33" fill="#fee7d0"/><rect x="237.41" y="112.30" width="7.16" height="7.33" fill="#fee8d1"/><rect x="243.87" y="112.30" width="7.16" height="7.33" fill="#fee8d3"/><rect x="250.33" y="112.30" width="7.16" height="7.33" fill="#fee9d4"/><rect x="256.79" y="112.30" width="7.16" height="7.33" fill="#feead5"/><rect x="263.25" y="112.30" width="7.16" height="7.33" fill="#feead6"/><rect x="269.71" y="112.30" width="7.16" height="7.33" fill="#feebd7"/><rect x="276.17" y="112.30" width="7.16" height="7.33" fill="#feebd8"/><rect x="282.63" y="112.30" width="7.16" height="7.33" fill="#feecd9"/>
<rect x="56.50" y="118.93" width="58.85" height="7.33" fill="#fdca98"/><rect x="114.65" y="118.93" width="7.16" height="7.33" fill="#fdcd9e"/><rect x="121.11" y="118.93" width="7.16" height="7.33" fill="#fdd4ab"/><rect x="127.57" y="118.93" width="7.16" height="7.33" fill="#feddbb"/><rect x="134.03" y="118.93" width="7.16" height="7.33" fill="#fee5cb"/><rect x="140.49" y="118.93" width="7.16" height="7.33" fill="#fee9d4"/><rect x="146.95" y="118.93" width="26.54" height="7.33" fill="#feebd7"/><rect x="172.80" y="118.93" width="7.16" height="7.33" fill="#7f2704"/><rect x="179.26" y="118.93" width="7.16" height="7.33" fill="#fd8f3f"/><rect x="185.72" y="118.93" width="7.16" height="7.33" fill="#fd9c52"/><rect x="192.18" y="118.93" width="7.16" height="7.33" fill="#fda964"/><rect x="198.64" y="118.93" width="7.16" height="7.33" fill="#fdb576"/><rect x="205.10" y="118.93" width="7.16" height="7.33" fill="#fdc38c"/><rect x="211.56" y="118.93" width="7.16" height="7.33" fill="#fdd1a5"/><rect x="218.03" y="118.93" width="7.16" height="7.33" fill="#fedcb9"/><rect x="224.49" y="118.93" width="7.16" height="7.33" fill="#fee5cc"/><rect x="230.95" y="118.93" width="7.16" height="7.33" fill="#fee9d4"/><rect x="237.41" y="118.93" width="7.16" height="7.33" fill="#feead5"/><rect x="243.87" y="118.93" width="7.16" height="7.33" fill="#feead6"/><rect x="250.33" y="118.93" width="7.16" height="7.33" fill="#feebd7"/><rect x="256.79" y="118.93" width="7.16" height="7.33" fill="#feebd9"/><rect x="263.25" y="118.93" width="7.16" height="7.33" fill="#feecd9"/><rect x="269.71" y="118.93" width="7.16" height="7.33" fill="#feecda"/><rect x="276.17" y="118.93" width="7.16" height="7.33" fill="#feeddb"/><rect x="282.63" y="118.93" width="7.16" height="7.33" fill="#feeddc"/>
<rect x="56.50" y="125.55" width="7.16" height="7.33" fill="#ffeedd"/><rect x="62.96" y="125.55" width="7.16" height="7.33" fill="#feeddc"/><rect x="69.42" y="125.55" width="7.16" height="7.33" fill="#feeddb"/><rect x="75.88" y="125.55" width="7.16" height="7.33" fill="#feecda"/><rect x="82.34" y="125.55" width="7.16" height="7.33" fill="#feecd9"/><rect x="88.81" y="125.55" width="7.16" height="7.33" fill="#feebd7"/><rect x="95.27" y="125.55" width="7.16" height="7.33" fill="#feead5"/><rect x="101.73" y="125.55" width="7.16" height="7.33" fill="#fee8d2"/><rect x="108.19" y="125.55" width="7.16" height="7.33" fill="#fee6cd"/><rect x="114.65" y="125.55" width="7.16" height="7.33" fill="#fee1c5"/><rect x="121.11" y="125.55" width="7.16" height="7.33" fill="#fedbb9"/><rect x="127.57" y="125.55" width="7.16" height="7.33" fill="#fdd5ab"/><rect x="134.03" y="125.55" width="7.16" height="7.33" fill="#fdcb9a"/><rect x="140.49" y="125.55" width="7.16" height="7.33" fill="#fdbe85"/><rect x="146.95" y="125.55" width="7.16" height="7.33" fill="#fdb06f"/><rect x="153.42" y="125.55" width="7.16" height="7.33" fill="#fda35b"/><rect x="159.88" y="125.55" width="7.16" height="7.33" fill="#fd9648"/><rect x="166.34" y="125.55" width="7.16" height="7.33" fill="#7f2704"/><rect x="172.80" y="125.55" width="13.62" height="7.33" fill="#feebd7"/><rect x="185.72" y="125.55" width="7.16" height="7.33" fill="#feead7"/><rect x="192.18" y="125.55" width="7.16" height="7.33" fill="#fee8d1"/><rect x="198.64" y="125.55" width="7.16" height="7.33" fill="#fedebe"/><rect x="205.10" y="125.55" width="7.16" height="7.33" fill="#fdc997"/><rect x="211.56" y="125.55" width="7.16" height="7.33" fill="#fdb170"/><rect x="218.03" y="125.55" width="7.16" height="7.33" fill="#fda55e"/><rect x="224.49" y="125.55" width="7.16" height="7.33" fill="#fd9d53"/><rect x="230.95" y="125.55" width="58.85" height="7.33" fill="#fd984c"/>
<rect x="56.50" y="132.18" width="7.16" height="7.33" fill="#feeddb"/><rect x="62.96" y="132.18" width="7.16" height="7.33" fill="#feecda"/><rect x="69.42" y="132.18" width="7.16" height="7.33" fill="#feecd9"/><rect x="75.88" y="132.18" width="7.16" height="7.33" fill="#feebd8"/><rect x="82.34" y="132.18" width="7.16" height="7.33" fill="#feead6"/><rect x="88.81" y="132.18" width="7.16" height="7.33" fill="#fee9d3"/><rect x="95.27" y="132.18" width="7.16" height="7.33" fill="#fee7cf"/><rect x="101.73" y="132.18" width="7.16" height="7.33" fill="#fee3c8"/><rect x="108.19" y="132.18" width="7.16" height="7.33" fill="#fedebe"/><rect x="114.65" y="132.18" width="7.16" height="7.33" fill="#fdd9b4"/><rect x="121.11" y="132.18" width="7.16" height="7.33" fill="#fdd3a8"/><rect x="127.57" y="132.18" width="7.16" height="7.33" fill="#fdca98"/><rect x="134.03" y="132.18" width="7.16" height="7.33" fill="#fdbe84"/><rect x="140.49" y="132.18" width="7.16" height="7.33" fill="#fdb06f"/><rect x="146.95" y="132.18" width="7.16" height="7.33" fill="#fda35b"/><rect x="153.42" y="132.18" width="7.16" height="7.33" fill="#fd9648"/><rect x="159.88" y="132.18" width="7.16" height="7.33" fill="#7f2704"/><rect x="166.34" y="132.18" width="7.16" height="7.33" fill="#fd9648"/><rect x="172.80" y="132.18" width="13.62" height="7.33" fill="#feebd7"/><rect x="185.72" y="132.18" width="7.16" height="7.33" fill="#feead7"/><rect x="192.18" y="132.18" width="7.16" height="7.33" fill="#fee8d1"/><rect x="198.64" y="132.18" width="7.16" height="7.33" fill="#fedebe"/><rect x="205.10" y="132.18" width="7.16" height="7.33" fill="#fdc997"/><rect x="211.56" y="132.18" width="7.16" height="7.33" fill="#fdb170"/><rect x="218.03" y="132.18" width="7.16" height="7.33" fill="#fda55e"/><rect x="224.49" y="132.18" width="7.16" height="7.33" fill="#fd9d53"/><rect x="230.95" y="132.18" width="58.85" height="7.33" fill="#fd984c"/>
<rect x="56.50" y="138.80" width="7.16" height="7.33" fill="#feecd9"/><rect x="62.96" y="138.80" width="7.16" height="7.33" fill="#feebd8"/><rect x="69.42" y="138.80" width="7.16" height="7.33" fill="#feead6"/><rect x="75.88" y="138.80" width="7.16" height="7.33" fill="#fee9d3"/><rect x="82.34" y="138.80" width="7.16" height="7.33" fill="#fee7d0"/><rect x="88.81" y="138.80" width="7.16" height="7.33" fill="#fee5cb"/><rect x="95.27" y="138.80" width="7.16" height="7.33" fill="#fee0c2"/><rect x="101.73" y="138.80" width="7.16" height="7.33" fill="#fedbb8"/><rect x="108.19" y="138.80" width="7.16" height="7.33" fill="#fdd6ae"/><rect x="114.65" y="138.80" width="7.16" height="7.33" fill="#fdd0a3"/><rect x="121.11" y="138.80" width="7.16" height="7.33" fill="#fdc794"/><rect x="127.57" y="138.80" width="7.16" height="7.33" fill="#fdbc82"/><rect x="134.03" y="138.80" width="7.16" height="7.33" fill="#fdb06e"/><rect x="140.49" y="138.80" width="7.16" height="7.33" fill="#fda35b"/><rect x="146.95" y="138.80" width="7.16" height="7.33" fill="#fd9648"/><rect x="153.42" y="138.80" width="7.16" height="7.33" fill="#7f2704"/><rect x="159.88" y="138.80" width="7.16" height="7.33" fill="#fd9648"/><rect x="166.34" y="138.80" width="7.16" height="7.33" fill="#fda35b"/><rect x="172.80" y="138.80" width="13.62" height="7.33" fill="#feebd7"/><rect x="185.72" y="138.80" width="7.16" height="7.33" fill="#feead7"/><rect x="192.18" y="138.80" width="7.16" height="7.33" fill="#fee8d2"/><rect x="198.64" y="138.80" width="7.16" height="7.33" fill="#fedfbf"/><rect x="205.10" y="138.80" width="7.16" height="7.33" fill="#fdcb9a"/><rect x="211.56" y="138.80" width="7.16" height="7.33" fill="#fdb475"/><rect x="218.03" y="138.80" width="7.16" height="7.33" fill="#fda863"/><rect x="224.49" y="138.80" width="7.16" height="7.33" fill="#fda158"/><rect x="230.95" y="138.80" width="58.85" height="7.33" fill="#fd9c51"/>
<rect x="56.50" y="145.43" width="7.16" height="7.33" fill="#feead5"/><rect x="62.96" y="145.43" width="7.16" height="7.33" fill="#fee9d3"/><rect x="69.42" y="145.43" width="7.16" height="7.33" fill="#fee7d0"/><rect x="75.88" y="145.43" width="7.16" height="7.33" fill="#fee5cc"/><rect x="82.34" y="145.43" width="7.16" height="7.33" fill="#fee1c4"/><rect x="88.81" y="145.43" width="7.16" height="7.33" fill="#feddbb"/><rect x="95.27" y="145.43" width="7.16" height="7.33" fill="#fdd8b2"/><rect x="101.73" y="145.43" width="7.16" height="7.33" fill="#fdd3a7"/><rect x="108.19" y="145.43" width="7.16" height="7.33" fill="#fdcc9c"/><rect x="114.65" y="145.43" width="7.16" height="7.33" fill="#fdc48e"/><rect x="121.11" y="145.43" width="7.16" height="7.33" fill="#fdba7f"/><rect x="127.57" y="145.43" width="7.16" height="7.33" fill="#fdaf6d"/><rect x="134.03" y="145.43" width="7.16" height="7.33" fill="#fda35b"/><rect x="140.49" y="145.43" width="7.16" height="7.33" fill="#fd9648"/><rect x="146.95" y="145.43" width="7.16" height="7.33" fill="#7f2704"/><rect x="153.42" y="145.43" width="7.16" height="7.33" fill="#fd9648"/><rect x="159.88" y="145.43" width="7.16" height="7.33" fill="#fda35b"/><rect x="166.34" y="145.43" width="7.16" height="7.33" fill="#fdb06f"/><rect x="172.80" y="145.43" width="20.08" height="7.33" fill="#feebd7"/><rect x="192.18" y="145.43" width="7.16" height="7.33" fill="#fee8d2"/><rect x="198.64" y="145.43" width="7.16" height="7.33" fill="#fee0c3"/><rect x="205.10" y="145.43" width="7.16" height="7.33" fill="#fdd1a4"/><rect x="211.56" y="145.43" width="7.16" height="7.33" fill="#fdbd83"/><rect x="218.03" y="145.43" width="7.16" height="7.33" fill="#fdb272"/><rect x="224.49" y="145.43" width="7.16" height="7.33" fill="#fdac68"/><rect x="230.95" y="145.43" width="58.85" height="7.33" fill="#fda762"/>
<rect x="56.50" y="152.05" width="7.16" height="7.33" fill="#fee7d0"/><rect x="62.96" y="152.05" width="7.16" height="7.33" fill="#fee4cb"/><rect x="69.42" y="152.05" width="7.16" height="7.33" fill="#fee1c4"/><rect x="75.88" y="152.05" width="7.16" height="7.33" fill="#feddbb"/><rect x="82.34" y="152.05" width="7.16" height="7.33" fill="#fdd8b2"/><rect x="88.81" y="152.05" width="7.16" height="7.33" fill="#fdd4aa"/><rect x="95.27" y="152.05" width="7.16" height="7.33" fill="#fdcfa0"/><rect x="101.73" y="152.05" width="7.16" height="7.33" fill="#fdc794"/><rect x="108.19" y="152.05" width="7.16" height="7.33" fill="#fdbf87"/><rect x="114.65" y="152.05" width="7.16" height="7.33" fill="#fdb779"/><rect x="121.11" y="152.05" width="7.16" height="7.33" fill="#fdae6a"/><rect x="127.57" y="152.05" width="7.16" height="7.33" fill="#fda35b"/><rect x="134.03" y="152.05" width="7.16" height="7.33" fill="#fd9649"/><rect x="140.49" y="152.05" width="7.16" height="7.33" fill="#7f2704"/><rect x="146.95" y="152.05" width="7.16" height="7.33" fill="#fd9648"/><rect x="153.42" y="152.05" width="7.16" height="7.33" fill="#fda35b"/><rect x="159.88" y="152.05" width="7.16" height="7.33" fill="#fdb06f"/><rect x="166.34" y="152.05" width="7.16" height="7.33" fill="#fdbe85"/><rect x="172.80" y="152.05" width="7.16" height="7.33" fill="#fee9d4"/><rect x="179.26" y="152.05" width="7.16" height="7.33" fill="#feead5"/><rect x="185.72" y="152.05" width="7.16" height="7.33" fill="#fee9d5"/><rect x="192.18" y="152.05" width="7.16" height="7.33" fill="#fee8d1"/><rect x="198.64" y="152.05" width="7.16" height="7.33" fill="#fee2c5"/><rect x="205.10" y="152.05" width="7.16" height="7.33" fill="#fdd5ac"/><rect x="211.56" y="152.05" width="7.16" height="7.33" fill="#fdc793"/><rect x="218.03" y="152.05" width="7.16" height="7.33" fill="#fdbe86"/><rect x="224.49" y="152.05" width="7.16" height="7.33" fill="#fdb97d"/><rect x="230.95" y="152.05" width="7.16" height="7.33" fill="#fdb677"/><rect x="237.41" y="152.05" width="39.47" height="7.33" fill="#fdb678"/><rect x="276.17" y="152.05" width="13.62" height="7.33" fill="#fdb679"/>
<rect x="56.50" y="158.68" width="7.16" height="7.33" fill="#fee1c3"/><rect x="62.96" y="158.68" width="7.16" height="7.33" fill="#feddbb"/><rect x="69.42" y="158.68" width="7.16" height="7.33" fill="#fdd8b3"/><rect x="75.88" y="158.68" width="7.16" height="7.33" fill="#fdd4aa"/><rect x="82.34" y="158.68" width="7.16" height="7.33" fill="#fdd0a1"/><rect x="88.81" y="158.68" width="7.16" height="7.33" fill="#fdc996"/><rect x="95.27" y="158.68" width="7.16" height="7.33" fill="#fdc28b"/><rect x="101.73" y="158.68" width="7.16" height="7.33" fill="#fdba7f"/><rect x="108.19" y="158.68" width="7.16" height="7.33" fill="#fdb372"/><rect x="114.65" y="158.68" width="7.16" height="7.33" fill="#fdab66"/><rect x="121.11" y="158.68" width="7.16" height="7.33" fill="#fda259"/><rect x="127.57" y="158.68" width="7.16" height="7.33" fill="#fd974a"/><rect x="134.03" y="158.68" width="7.16" height="7.33" fill="#7f2704"/><rect x="140.49" y="158.68" width="7.16" height="7.33" fill="#fd9649"/><rect x="146.95" y="158.68" width="7.16" height="7.33" fill="#fda35b"/><rect x="153.42" y="158.68" width="7.16" height="7.33" fill="#fdb06e"/><rect x="159.88" y="158.68" width="7.16" height="7.33" fill="#fdbe84"/><rect x="166.34" y="158.68" width="7.16" height="7.33" fill="#fdcb9a"/><rect x="172.80" y="158.68" width="7.16" height="7.33" fill="#fee5cb"/><rect x="179.26" y="158.68" width="7.16" height="7.33" fill="#fee6ce"/><rect x="185.72" y="158.68" width="7.16" height="7.33" fill="#fee7cf"/><rect x="192.18" y="158.68" width="7.16" height="7.33" fill="#fee6ce"/><rect x="198.64" y="158.68" width="7.16" height="7.33" fill="#fee1c4"/><rect x="205.10" y="158.68" width="7.16" height="7.33" fill="#fdd8b1"/><rect x="211.56" y="158.68" width="7.16" height="7.33" fill="#fdcfa1"/><rect x="218.03" y="158.68" width="7.16" height="7.33" fill="#fdc997"/><rect x="224.49" y="158.68" width="7.16" height="7.33" fill="#fdc691"/><rect x="230.95" y="158.68" width="7.16" height="7.33" fill="#fdc48e"/><rect x="237.41" y="158.68" width="7.16" height="7.33" fill="#fdc48f"/><rect x="243.87" y="158.68" width="13.62" height="7.33" fill="#fdc590"/><rect x="256.79" y="158.68" width="7.16" height="7.33" fill="#fdc591"/><rect x="263.25" y="158.68" width="7.16" height="7.33" fill="#fdc691"/><rect x="269.71" y="158.68" width="13.62" height="7.33" fill="#fdc692"/><rect x="282.63" y="158.68" width="7.16" height="7.33" fill="#fdc693"/>
<rect x="56.50" y="165.30" width="7.16" height="7.33" fill="#fdd9b4"/><rect x="62.96" y="165.30" width="7.16" height="7.33" fill="#fdd5ab"/><rect x="69.42" y="165.30" width="7.16" height="7.33" fill="#fdd1a3"/><rect x="75.88" y="165.30" width="7.16" height="7.33" fill="#fdca99"/><rect x="82.34" y="165.30" width="7.16" height="7.33" fill="#fdc48e"/><rect x="88.81" y="165.30" width="7.16" height="7.33" fill="#fdbd83"/><rect x="95.27" y="165.30" width="7.16" height="7.33" fill="#fdb677"/><rect x="101.73" y="165.30" width="7.16" height="7.33" fill="#fdaf6c"/><rect x="108.19" y="165.30" width="7.16" height="7.33" fill="#fda761"/><rect x="114.65" y="165.30" width="7.16" height="7.33" fill="#fda056"/><rect x="121.11" y="165.30" width="7.16" height="7.33" fill="#fd974a"/><rect x="127.57" y="165.30" width="7.16" height="7.33" fill="#7f2704"/><rect x="134.03" y="165.30" width="7.16" height="7.33" fill="#fd974a"/><rect x="140.49" y="165.30" width="7.16" height="7.33" fill="#fda35b"/><rect x="146.95" y="165.30" width="7.16" height="7.33" fill="#fdaf6d"/><rect x="153.42" y="165.30" width="7.16" height="7.33" fill="#fdbc82"/><rect x="159.88" y="165.30" width="7.16" height="7.33" fill="#fdca98"/><rect x="166.34" y="165.30" width="7.16" height="7.33" fill="#fdd5ab"/><rect x="172.80" y="165.30" width="7.16" height="7.33" fill="#feddbb"/><rect x="179.26" y="165.30" width="7.16" height="7.33" fill="#fedfc1"/><rect x="185.72" y="165.30" width="7.16" height="7.33" fill="#fee2c5"/><rect x="192.18" y="165.30" width="7.16" height="7.33" fill="#fee2c7"/><rect x="198.64" y="165.30" width="7.16" height="7.33" fill="#fee0c2"/><rect x="205.10" y="165.30" width="7.16" height="7.33" fill="#fddbb7"/><rect x="211.56" y="165.30" width="7.16" height="7.33" fill="#fdd6ae"/><rect x="218.03" y="165.30" width="7.16" height="7.33" fill="#fdd4aa"/><rect x="224.49" y="165.30" width="13.62" height="7.33" fill="#fdd3a8"/><rect x="237.41" y="165.30" width="7.16" height="7.33" fill="#fdd4a9"/><rect x="243.87" y="165.30" width="7.16" height="7.33" fill="#fdd4aa"/><rect x="250.33" y="165.30" width="7.16" height="7.33" fill="#fdd5ab"/><rect x="256.79" y="165.30" width="7.16" height="7.33" fill="#fdd5ac"/><rect x="263.25" y="165.30" width="7.16" height="7.33" fill="#fdd6ad"/><rect x="269.71" y="165.30" width="13.62" height="7.33" fill="#fdd6ae"/><rect x="282.63" y="165.30" width="7.16" height="7.33" fill="#fdd6af"/>
<rect x="56.50" y="171.93" width="7.16" height="7.33" fill="#fdd2a6"/><rect x="62.96" y="171.93" width="7.16" height="7.33" fill="#fdcd9d"/><rect x="69.42" y="171.93" width="7.16" height="7.33" fill="#fdc793"/><rect x="75.88" y="171.93" width="7.16" height="7.33" fill="#fdc088"/><rect x="82.34" y="171.93" width="7.16" height="7.33" fill="#fdb97d"/><rect x="88.81" y="171.93" width="7.16" height="7.33" fill="#fdb272"/><rect x="95.27" y="171.93" width="7.16" height="7.33" fill="#fdab67"/><rect x="101.73" y="171.93" width="7.16" height="7.33" fill="#fda45d"/><rect x="108.19" y="171.93" width="7.16" height="7.33" fill="#fd9d53"/><rect x="114.65" y="171.93" width="7.16" height="7.33" fill="#fd9649"/><rect x="121.11" y="171.93" width="7.16" height="7.33" fill="#7f2704"/><rect x="127.57" y="171.93" width="7.16" height="7.33" fill="#fd974a"/><rect x="134.03" y="171.93" width="7.16" height="7.33" fill="#fda259"/><rect x="140.49" y="171.93" width="7.16" height="7.33" fill="#fdae6a"/><rect x="146.95" y="171.93" width="7.16" height="7.33" fill="#fdba7f"/><rect x="153.42" y="171.93" width="7.16" height="7.33" fill="#fdc794"/><rect x="159.88" y="171.93" width="7.16" height="7.33" fill="#fdd3a8"/><rect x="166.34" y="171.93" width="7.16" height="7.33" fill="#fedbb9"/><rect x="172.80" y="171.93" width="7.16" height="7.33" fill="#fdd4ab"/><rect x="179.26" y="171.93" width="7.16" height="7.33" fill="#fdd9b4"/><rect x="185.72" y="171.93" width="7.16" height="7.33" fill="#fedcbb"/><rect x="192.18" y="171.93" width="7.16" height="7.33" fill="#fedfbf"/><rect x="198.64" y="171.93" width="7.16" height="7.33" fill="#fedfc0"/><rect x="205.10" y="171.93" width="7.16" height="7.33" fill="#fedebd"/><rect x="211.56" y="171.93" width="13.62" height="7.33" fill="#fedcbb"/><rect x="224.49" y="171.93" width="7.16" height="7.33" fill="#feddbb"/><rect x="230.95" y="171.93" width="7.16" height="7.33" fill="#feddbd"/><rect x="237.41" y="171.93" width="7.16" height="7.33" fill="#fedebf"/><rect x="243.87" y="171.93" width="7.16" height="7.33" fill="#fedfc1"/><rect x="250.33" y="171.93" width="7.16" height="7.33" fill="#fee0c2"/><rect x="256.79" y="171.93" width="7.16" height="7.33" fill="#fee1c4"/><rect x="263.25" y="171.93" width="7.16" height="7.33" fill="#fee1c5"/><rect x="269.71" y="171.93" width="7.16" height="7.33" fill="#fee2c6"/><rect x="276.17" y="171.93" width="7.16" height="7.33" fill="#fee2c7"/><rect x="282.63" y="171.93" width="7.16" height="7.33" fill="#fee3c7"/>
<rect x="56.50" y="178.55" width="7.16" height="7.33" fill="#fdcb99"/><rect x="62.96" y="178.55" width="7.16" height="7.33" fill="#fdc48f"/><rect x="69.42" y="178.55" width="7.16" height="7.33" fill="#fdbe85"/><rect x="75.88" y="178.55" width="7.16" height="7.33" fill="#fdb77a"/><rect x="82.34" y="178.55" width="7.16" height="7.33" fill="#fdb16f"/><rect x="88.81" y="178.55" width="7.16" height="7.33" fill="#fdaa65"/><rect x="95.27" y="178.55" width="7.16" height="7.33" fill="#fda35b"/><rect x="101.73" y="178.55" width="7.16" height="7.33" fill="#fd9c52"/><rect x="108.19" y="178.55" width="7.16" height="7.33" fill="#fd9547"/><rect x="114.65" y="178.55" width="7.16" height="7.33" fill="#7f2704"/><rect x="121.11" y="178.55" width="7.16" height="7.33" fill="#fd9649"/><rect x="127.57" y="178.55" width="7.16" height="7.33" fill="#fda056"/><rect x="134.03" y="178.55" width="7.16" height="7.33" fill="#fdab66"/><rect x="140.49" y="178.55" width="7.16" height="7.33" fill="#fdb779"/><rect x="146.95" y="178.55" width="7.16" height="7.33" fill="#fdc48e"/><rect x="153.42" y="178.55" width="7.16" height="7.33" fill="#fdd0a3"/><rect x="159.88" y="178.55" width="7.16" height="7.33" fill="#fdd9b4"/><rect x="166.34" y="178.55" width="7.16" height="7.33" fill="#fee1c5"/><rect x="172.80" y="178.55" width="7.16" height="7.33" fill="#fdcd9e"/><rect x="179.26" y="178.55" width="7.16" height="7.33" fill="#fdd4a9"/><rect x="185.72" y="178.55" width="7.16" height="7.33" fill="#fdd8b2"/><rect x="192.18" y="178.55" width="7.16" height="7.33" fill="#fedcba"/><rect x="198.64" y="178.55" width="7.16" height="7.33" fill="#fedebe"/><rect x="205.10" y="178.55" width="7.16" height="7.33" fill="#fedfc0"/><rect x="211.56" y="178.55" width="7.16" height="7.33" fill="#fee0c2"/><rect x="218.03" y="178.55" width="7.16" height="7.33" fill="#fee1c5"/><rect x="224.49" y="178.55" width="7.16" height="7.33" fill="#fee3c8"/><rect x="230.95" y="178.55" width="7.16" height="7.33" fill="#fee4ca"/><rect x="237.41" y="178.55" width="7.16" height="7.33" fill="#fee5cd"/><rect x="243.87" y="178.55" width="7.16" height="7.33" fill="#fee6cf"/><rect x="250.33" y="178.55" width="7.16" height="7.33" fill="#fee7d0"/><rect x="256.79" y="178.55" width="7.16" height="7.33" fill="#fee8d1"/><rect x="263.25" y="178.55" width="7.16" height="7.33" fill="#fee8d2"/><rect x="269.71" y="178.55" width="7.16" height="7.33" fill="#fee9d3"/><rect x="276.17" y="178.55" width="13.62" height="7.33" fill="#fee9d4"/>
<rect x="56.50" y="185.18" width="7.16" height="7.33" fill="#fdc38d"/><rect x="62.96" y="185.18" width="7.16" height="7.33" fill="#fdbd83"/><rect x="69.42" y="185.18" width="7.16" height="7.33" fill="#fdb779"/><rect x="75.88" y="185.18" width="7.16" height="7.33" fill="#fdb06e"/><rect x="82.34" y="185.18" width="7.16" height="7.33" fill="#fda964"/><rect x="88.81" y="185.18" width="7.16" height="7.33" fill="#fda35b"/><rect x="95.27" y="185.18" width="7.16" height="7.33" fill="#fd9c51"/><rect x="101.73" y="185.18" width="7.16" height="7.33" fill="#fd9547"/><rect x="108.19" y="185.18" width="7.16" height="7.33" fill="#7f2704"/><rect x="114.65" y="185.18" width="7.16" height="7.33" fill="#fd9547"/><rect x="121.11" y="185.18" width="7.16" height="7.33" fill="#fd9d53"/><rect x="127.57" y="185.18" width="7.16" height="7.33" fill="#fda761"/><rect x="134.03" y="185.18" width="7.16" height="7.33" fill="#fdb372"/><rect x="140.49" y="185.18" width="7.16" height="7.33" fill="#fdbf87"/><rect x="146.95" y="185.18" width="7.16" height="7.33" fill="#fdcc9c"/><rect x="153.42" y="185.18" width="7.16" height="7.33" fill="#fdd6ae"/><rect x="159.88" y="185.18" width="7.16" height="7.33" fill="#fedebe"/><rect x="166.34" y="185.18" width="7.16" height="7.33" fill="#fee6cd"/><rect x="172.80" y="185.18" width="7.16" height="7.33" fill="#fdca98"/><rect x="179.26" y="185.18" width="7.16" height="7.33" fill="#fdd2a5"/><rect x="185.72" y="185.18" width="7.16" height="7.33" fill="#fdd7af"/><rect x="192.18" y="185.18" width="7.16" height="7.33" fill="#fddbb7"/><rect x="198.64" y="185.18" width="7.16" height="7.33" fill="#fedebe"/><rect x="205.10" y="185.18" width="7.16" height="7.33" fill="#fee0c3"/><rect x="211.56" y="185.18" width="7.16" height="7.33" fill="#fee2c7"/><rect x="218.03" y="185.18" width="7.16" height="7.33" fill="#fee4cb"/><rect x="224.49" y="185.18" width="7.16" height="7.33" fill="#fee6ce"/><rect x="230.95" y="185.18" width="7.16" height="7.33" fill="#fee7d0"/><rect x="237.41" y="185.18" width="7.16" height="7.33" fill="#fee8d2"/><rect x="243.87" y="185.18" width="7.16" height="7.33" fill="#fee9d4"/><rect x="250.33" y="185.18" width="7.16" height="7.33" fill="#feead5"/><rect x="256.79" y="185.18" width="7.16" height="7.33" fill="#feead6"/><rect x="263.25" y="185.18" width="13.62" height="7.33" fill="#feebd8"/><rect x="276.17" y="185.18" width="7.16" height="7.33" fill="#feecd9"/><rect x="282.63" y="185.18" width="7.16" height="7.33" fill="#feecda"/>
<rect x="56.50" y="191.80" width="7.16" height="7.33" fill="#fdbc82"/><rect x="62.96" y="191.80" width="7.16" height="7.33" fill="#fdb677"/><rect x="69.42" y="191.80" width="7.16" height="7.33" fill="#fdaf6d"/><rect x="75.88" y="191.80" width="7.16" height="7.33" fill="#fda964"/><rect x="82.34" y="191.80" width="7.16" height="7.33" fill="#fda25a"/><rect x="88.81" y="191.80" width="7.16" height="7.33" fill="#fd9c51"/><rect x="95.27" y="191.80" width="7.16" height="7.33" fill="#fd9547"/><rect x="101.73" y="191.80" width="7.16" height="7.33" fill="#7f2704"/><rect x="108.19" y="191.80" width="7.16" height="7.33" fill="#fd9547"/><rect x="114.65" y="191.80" width="7.16" height="7.33" fill="#fd9c52"/><rect x="121.11" y="191.80" width="7.16" height="7.33" fill="#fda45d"/><rect x="127.57" y="191.80" width="7.16" height="7.33" fill="#fdaf6c"/><rect x="134.03" y="191.80" width="7.16" height="7.33" fill="#fdba7f"/><rect x="140.49" y="191.80" width="7.16" height="7.33" fill="#fdc794"/><rect x="146.95" y="191.80" width="7.16" height="7.33" fill="#fdd3a7"/><rect x="153.42" y="191.80" width="7.16" height="7.33" fill="#fedbb8"/><rect x="159.88" y="191.80" width="7.16" height="7.33" fill="#fee3c8"/><rect x="166.34" y="191.80" width="7.16" height="7.33" fill="#fee8d2"/><rect x="172.80" y="191.80" width="7.16" height="7.33" fill="#fdca98"/><rect x="179.26" y="191.80" width="7.16" height="7.33" fill="#fdd2a5"/><rect x="185.72" y="191.80" width="7.16" height="7.33" fill="#fdd7af"/><rect x="192.18" y="191.80" width="7.16" height="7.33" fill="#fddbb8"/><rect x="198.64" y="191.80" width="7.16" height="7.33" fill="#fedebf"/><rect x="205.10" y="191.80" width="7.16" height="7.33" fill="#fee1c5"/><rect x="211.56" y="191.80" width="7.16" height="7.33" fill="#fee4ca"/><rect x="218.03" y="191.80" width="7.16" height="7.33" fill="#fee6ce"/><rect x="224.49" y="191.80" width="7.16" height="7.33" fill="#fee7d1"/><rect x="230.95" y="191.80" width="7.16" height="7.33" fill="#fee9d3"/><rect x="237.41" y="191.80" width="7.16" height="7.33" fill="#feead5"/><rect x="243.87" y="191.80" width="7.16" height="7.33" fill="#feead6"/><rect x="250.33" y="191.80" width="7.16" height="7.33" fill="#feebd8"/><rect x="256.79" y="191.80" width="7.16" height="7.33" fill="#feecd9"/><rect x="263.25" y="191.80" width="7.16" height="7.33" fill="#feecda"/><rect x="269.71" y="191.80" width="7.16" height="7.33" fill="#feeddb"/><rect x="276.17" y="191.80" width="13.62" height="7.33" fill="#feeddc"/>
<rect x="56.50" y="198.43" width="7.16" height="7.33" fill="#fdb576"/><rect x="62.96" y="198.43" width="7.16" height="7.33" fill="#fdaf6c"/><rect x="69.42" y="198.43" width="7.16" height="7.33" fill="#fda863"/><rect x="75.88" y="198.43" width="7.16" height="7.33" fill="#fda25a"/><rect x="82.34" y="198.43" width="7.16" height="7.33" fill="#fd9b50"/><rect x="88.81" y="198.43" width="7.16" height="7.33" fill="#fd9547"/><rect x="95.27" y="198.43" width="7.16" height="7.33" fill="#7f2704"/><rect x="101.73" y="198.43" width="7.16" height="7.33" fill="#fd9547"/><rect x="108.19" y="198.43" width="7.16" height="7.33" fill="#fd9c51"/><rect x="114.65" y="198.43" width="7.16" height="7.33" fill="#fda35b"/><rect x="121.11" y="198.43" width="7.16" height="7.33" fill="#fdab67"/><rect x="127.57" y="198.43" width="7.16" height="7.33" fill="#fdb677"/><rect x="134.03" y="198.43" width="7.16" height="7.33" fill="#fdc28b"/><rect x="140.49" y="198.43" width="7.16" height="7.33" fill="#fdcfa0"/><rect x="146.95" y="198.43" width="7.16" height="7.33" fill="#fdd8b2"/><rect x="153.42" y="198.43" width="7.16" height="7.33" fill="#fee0c2"/><rect x="159.88" y="198.43" width="7.16" height="7.33" fill="#fee7cf"/><rect x="166.34" y="198.43" width="7.16" height="7.33" fill="#feead5"/><rect x="172.80" y="198.43" width="7.16" height="7.33" fill="#fdca98"/><rect x="179.26" y="198.43" width="7.16" height="7.33" fill="#fdd2a5"/><rect x="185.72" y="198.43" width="7.16" height="7.33" fill="#fdd7af"/><rect x="192.18" y="198.43" width="7.16" height="7.33" fill="#fddbb8"/><rect x="198.64" y="198.43" width="7.16" height="7.33" fill="#fedfbf"/><rect x="205.10" y="198.43" width="7.16" height="7.33" fill="#fee2c5"/><rect x="211.56" y="198.43" width="7.16" height="7.33" fill="#fee4cb"/><rect x="218.03" y="198.43" width="7.16" height="7.33" fill="#fee6cf"/><rect x="224.49" y="198.43" width="7.16" height="7.33" fill="#fee8d2"/><rect x="230.95" y="198.43" width="7.16" height="7.33" fill="#fee9d4"/><rect x="237.41" y="198.43" width="7.16" height="7.33" fill="#feead6"/><rect x="243.87" y="198.43" width="7.16" height="7.33" fill="#feebd7"/><rect x="250.33" y="198.43" width="7.16" height="7.33" fill="#feecd9"/><rect x="256.79" y="198.43" width="7.16" height="7.33" fill="#feecda"/><rect x="263.25" y="198.43" width="7.16" height="7.33" fill="#feeddb"/><rect x="269.71" y="198.43" width="7.16" height="7.33" fill="#feeddc"/><rect x="276.17" y="198.43" width="13.62" height="7.33" fill="#ffeedd"/>
<rect x="56.50" y="205.05" width="7.16" height="7.33" fill="#fdae6b"/><rect x="62.96" y="205.05" width="7.16" height="7.33" fill="#fda862"/><rect x="69.42" y="205.05" width="7.16" height="7.33" fill="#fda159"/><rect x="75.88" y="205.05" width="7.16" height="7.33" fill="#fd9b50"/><rect x="82.34" y="205.05" width="7.16" height="7.33" fill="#fd9547"/><rect x="88.81" y="205.05" width="7.16" height="7.33" fill="#7f2704"/><rect x="95.27" y="205.05" width="7.16" height="7.33" fill="#fd9547"/><rect x="101.73" y="205.05" width="7.16" height="7.33" fill="#fd9c51"/><rect x="108.19" y="205.05" width="7.16" height="7.33" fill="#fda35b"/><rect x="114.65" y="205.05" width="7.16" height="7.33" fill="#fdaa65"/><rect x="121.11" y="205.05" width="7.16" height="7.33" fill="#fdb272"/><rect x="127.57" y="205.05" width="7.16" height="7.33" fill="#fdbd83"/><rect x="134.03" y="205.05" width="7.16" height="7.33" fill="#fdc996"/><rect x="140.49" y="205.05" width="7.16" height="7.33" fill="#fdd4aa"/><rect x="146.95" y="205.05" width="7.16" height="7.33" fill="#feddbb"/><rect x="153.42" y="205.05" width="7.16" height="7.33" fill="#fee5cb"/><rect x="159.88" y="205.05" width="7.16" height="7.33" fill="#fee9d3"/><rect x="166.34" y="205.05" width="7.16" height="7.33" fill="#feebd7"/><rect x="172.80" y="205.05" width="7.16" height="7.33" fill="#fdca98"/><rect x="179.26" y="205.05" width="7.16" height="7.33" fill="#fdd2a5"/><rect x="185.72" y="205.05" width="7.16" height="7.33" fill="#fdd7af"/><rect x="192.18" y="205.05" width="7.16" height="7.33" fill="#fddbb8"/><rect x="198.64" y="205.05" width="7.16" height="7.33" fill="#fedfbf"/><rect x="205.10" y="205.05" width="7.16" height="7.33" fill="#fee2c5"/><rect x="211.56" y="205.05" width="7.16" height="7.33" fill="#fee4cb"/><rect x="218.03" y="205.05" width="7.16" height="7.33" fill="#fee6cf"/><rect x="224.49" y="205.05" width="7.16" height="7.33" fill="#fee8d2"/><rect x="230.95" y="205.05" width="7.16" height="7.33" fill="#fee9d4"/><rect x="237.41" y="205.05" width="7.16" height="7.33" fill="#feead6"/><rect x="243.87" y="205.05" width="7.16" height="7.33" fill="#feebd7"/><rect x="250.33" y="205.05" width="7.16" height="7.33" fill="#feecd9"/><rect x="256.79" y="205.05" width="7.16" height="7.33" fill="#feecda"/><rect x="263.25" y="205.05" width="7.16" height="7.33" fill="#feeddb"/><rect x="269.71" y="205.05" width="7.16" height="7.33" fill="#feeddc"/><rect x="276.17" y="205.05" width="13.62" height="7.33" fill="#ffeedd"/>
<rect x="56.50" y="211.68" width="7.16" height="7.33" fill="#fda761"/><rect x="62.96" y="211.68" width="7.16" height="7.33" fill="#fda158"/><rect x="69.42" y="211.68" width="7.16" height="7.33" fill="#fd9b50"/><rect x="75.88" y="211.68" width="7.16" height="7.33" fill="#fd9446"/><rect x="82.34" y="211.68" width="7.16" height="7.33" fill="#7f2704"/><rect x="88.81" y="211.68" width="7.16" height="7.33" fill="#fd9547"/><rect x="95.27" y="211.68" width="7.16" height="7.33" fill="#fd9b50"/><rect x="101.73" y="211.68" width="7.16" height="7.33" fill="#fda25a"/><rect x="108.19" y="211.68" width="7.16" height="7.33" fill="#fda964"/><rect x="114.65" y="211.68" width="7.16" height="7.33" fill="#fdb16f"/><rect x="121.11" y="211.68" width="7.16" height="7.33" fill="#fdb97d"/><rect x="127.57" y="211.68" width="7.16" height="7.33" fill="#fdc48e"/><rect x="134.03" y="211.68" width="7.16" height="7.33" fill="#fdd0a1"/><rect x="140.49" y="211.68" width="7.16" height="7.33" fill="#fdd8b2"/><rect x="146.95" y="211.68" width="7.16" height="7.33" fill="#fee1c4"/><rect x="153.42" y="211.68" width="7.16" height="7.33" fill="#fee7d0"/><rect x="159.88" y="211.68" width="7.16" height="7.33" fill="#feead6"/><rect x="166.34" y="211.68" width="7.16" height="7.33" fill="#feecd9"/><rect x="172.80" y="211.68" width="7.16" height="7.33" fill="#fdca98"/><rect x="179.26" y="211.68" width="7.16" height="7.33" fill="#fdd2a5"/><rect x="185.72" y="211.68" width="7.16" height="7.33" fill="#fdd7af"/><rect x="192.18" y="211.68" width="7.16" height="7.33" fill="#fddbb8"/><rect x="198.64" y="211.68" width="7.16" height="7.33" fill="#fedfbf"/><rect x="205.10" y="211.68" width="7.16" height="7.33" fill="#fee2c5"/><rect x="211.56" y="211.68" width="7.16" height="7.33" fill="#fee4cb"/><rect x="218.03" y="211.68" width="7.16" height="7.33" fill="#fee6cf"/><rect x="224.49" y="211.68" width="7.16" height="7.33" fill="#fee8d2"/><rect x="230.95" y="211.68" width="7.16" height="7.33" fill="#fee9d4"/><rect x="237.41" y="211.68" width="7.16" height="7.33" fill="#feead6"/><rect x="243.87" y="211.68" width="7.16" height="7.33" fill="#feebd7"/><rect x="250.33" y="211.68" width="7.16" height="7.33" fill="#feecd9"/><rect x="256.79" y="211.68" width="7.16" height="7.33" fill="#feecda"/><rect x="263.25" y="211.68" width="7.16" height="7.33" fill="#feeddb"/><rect x="269.71" y="211.68" width="7.16" height="7.33" fill="#feeddc"/><rect x="276.17" y="211.68" width="13.62" height="7.33" fill="#ffeedd"/>
<rect x="56.50" y="218.30" width="7.16" height="7.33" fill="#fda158"/><rect x="62.96" y="218.30" width="7.16" height="7.33" fill="#fd9a4f"/><rect x="69.42" y="218.30" width="7.16" height="7.33" fill="#fd9446"/><rect x="75.88" y="218.30" width="7.16" height="7.33" fill="#7f2704"/><rect x="82.34" y="218.30" width="7.16" height="7.33" fill="#fd9446"/><rect x="88.81" y="218.30" width="7.16" height="7.33" fill="#fd9b50"/><rect x="95.27" y="218.30" width="7.16" height="7.33" fill="#fda25a"/><rect x="101.73" y="218.30" width="7.16" height="7.33" fill="#fda964"/><rect x="108.19" y="218.30" width="7.16" height="7.33" fill="#fdb06e"/><rect x="114.65" y="218.30" width="7.16" height="7.33" fill="#fdb77a"/><rect x="121.11" y="218.30" width="7.16" height="7.33" fill="#fdc088"/><rect x="127.57" y="218.30" width="7.16" height="7.33" fill="#fdca99"/><rect x="134.03" y="218.30" width="7.16" height="7.33" fill="#fdd4aa"/><rect x="140.49" y="218.30" width="7.16" height="7.33" fill="#feddbb"/><rect x="146.95" y="218.30" width="7.16" height="7.33" fill="#fee5cc"/><rect x="153.42" y="218.30" width="7.16" height="7.33" fill="#fee9d3"/><rect x="159.88" y="218.30" width="7.16" height="7.33" fill="#feebd8"/><rect x="166.34" y="218.30" width="7.16" height="7.33" fill="#feecda"/><rect x="172.80" y="218.30" width="7.16" height="7.33" fill="#fdca98"/><rect x="179.26" y="218.30" width="7.16" height="7.33" fill="#fdd2a5"/><rect x="185.72" y="218.30" width="7.16" height="7.33" fill="#fdd7af"/><rect x="192.18" y="218.30" width="7.16" height="7.33" fill="#fddbb8"/><rect x="198.64" y="218.30" width="7.16" height="7.33" fill="#fedfbf"/><rect x="205.10" y="218.30" width="7.16" height="7.33" fill="#fee2c5"/><rect x="211.56" y="218.30" width="7.16" height="7.33" fill="#fee4cb"/><rect x="218.03" y="218.30" width="7.16" height="7.33" fill="#fee6cf"/><rect x="224.49" y="218.30" width="7.16" height="7.33" fill="#fee8d2"/><rect x="230.95" y="218.30" width="7.16" height="7.33" fill="#fee9d4"/><rect x="237.41" y="218.30" width="7.16" height="7.33" fill="#feead6"/><rect x="243.87" y="218.30" width="7.16" height="7.33" fill="#feebd7"/><rect x="250.33" y="218.30" width="7.16" height="7.33" fill="#feecd9"/><rect x="256.79" y="218.30" width="7.16" height="7.33" fill="#feecda"/><rect x="263.25" y="218.30" width="7.16" height="7.33" fill="#feeddb"/><rect x="269.71" y="218.30" width="7.16" height="7.33" fill="#feeddc"/><rect x="276.17" y="218.30" width="13.62" height="7.33" fill="#ffeedd"/>
<rect x="56.50" y="224.93" width="7.16" height="7.33" fill="#fd9a4f"/><rect x="62.96" y="224.93" width="7.16" height="7.33" fill="#fd9446"/><rect x="69.42" y="224.93" width="7.16" height="7.33" fill="#7f2704"/><rect x="75.88" y="224.93" width="7.16" height="7.33" fill="#fd9446"/><rect x="82.34" y="224.93" width="7.16" height="7.33" fill="#fd9b50"/><rect x="88.81" y="224.93" width="7.16" height="7.33" fill="#fda159"/><rect x="95.27" y="224.93" width="7.16" height="7.33" fill="#fda863"/><rect x="101.73" y="224.93" width="7.16" height="7.33" fill="#fdaf6d"/><rect x="108.19" y="224.93" width="7.16" height="7.33" fill="#fdb779"/><rect x="114.65" y="224.93" width="7.16" height="7.33" fill="#fdbe85"/><rect x="121.11" y="224.93" width="7.16" height="7.33" fill="#fdc793"/><rect x="127.57" y="224.93" width="7.16" height="7.33" fill="#fdd1a3"/><rect x="134.03" y="224.93" width="7.16" height="7.33" fill="#fdd8b3"/><rect x="140.49" y="224.93" width="7.16" height="7.33" fill="#fee1c4"/><rect x="146.95" y="224.93" width="7.16" height="7.33" fill="#fee7d0"/><rect x="153.42" y="224.93" width="7.16" height="7.33" fill="#feead6"/><rect x="159.88" y="224.93" width="7.16" height="7.33" fill="#feecd9"/><rect x="166.34" y="224.93" width="7.16" height="7.33" fill="#feeddb"/><rect x="172.80" y="224.93" width="7.16" height="7.33" fill="#fdca98"/><rect x="179.26" y="224.93" width="7.16" height="7.33" fill="#fdd2a5"/><rect x="185.72" y="224.93" width="7.16" height="7.33" fill="#fdd7af"/><rect x="192.18" y="224.93" width="7.16" height="7.33" fill="#fddbb8"/><rect x="198.64" y="224.93" width="7.16" height="7.33" fill="#fedfbf"/><rect x="205.10" y="224.93" width="7.16" height="7.33" fill="#fee2c5"/><rect x="211.56" y="224.93" width="7.16" height="7.33" fill="#fee4cb"/><rect x="218.03" y="224.93" width="7.16" height="7.33" fill="#fee6cf"/><rect x="224.49" y="224.93" width="7.16" height="7.33" fill="#fee8d2"/><rect x="230.95" y="224.93" width="7.16" height="7.33" fill="#fee9d4"/><rect x="237.41" y="224.93" width="7.16" height="7.33" fill="#feead6"/><rect x="243.87" y="224.93" width="7.16" height="7.33" fill="#feebd7"/><rect x="250.33" y="224.93" width="7.16" height="7.33" fill="#feecd9"/><rect x="256.79" y="224.93" width="7.16" height="7.33" fill="#feecda"/><rect x="263.25" y="224.93" width="7.16" height="7.33" fill="#feeddb"/><rect x="269.71" y="224.93" width="7.16" height="7.33" fill="#feeddc"/><rect x="276.17" y="224.93" width="13.62" height="7.33" fill="#ffeedd"/>
<rect x="56.50" y="231.55" width="7.16" height="7.33" fill="#fd9446"/><rect x="62.96" y="231.55" width="7.16" height="7.33" fill="#7f2704"/><rect x="69.42" y="231.55" width="7.16" height="7.33" fill="#fd9446"/><rect x="75.88" y="231.55" width="7.16" height="7.33" fill="#fd9a4f"/><rect x="82.34" y="231.55" width="7.16" height="7.33" fill="#fda158"/><rect x="88.81" y="231.55" width="7.16" height="7.33" fill="#fda862"/><rect x="95.27" y="231.55" width="7.16" height="7.33" fill="#fdaf6c"/><rect x="101.73" y="231.55" width="7.16" height="7.33" fill="#fdb677"/><rect x="108.19" y="231.55" width="7.16" height="7.33" fill="#fdbd83"/><rect x="114.65" y="231.55" width="7.16" height="7.33" fill="#fdc48f"/><rect x="121.11" y="231.55" width="7.16" height="7.33" fill="#fdcd9d"/><rect x="127.57" y="231.55" width="7.16" height="7.33" fill="#fdd5ab"/><rect x="134.03" y="231.55" width="7.16" height="7.33" fill="#feddbb"/><rect x="140.49" y="231.55" width="7.16" height="7.33" fill="#fee4cb"/><rect x="146.95" y="231.55" width="7.16" height="7.33" fill="#fee9d3"/><rect x="153.42" y="231.55" width="7.16" height="7.33" fill="#feebd8"/><rect x="159.88" y="231.55" width="7.16" height="7.33" fill="#feecda"/><rect x="166.34" y="231.55" width="7.16" height="7.33" fill="#feeddc"/><rect x="172.80" y="231.55" width="7.16" height="7.33" fill="#fdca98"/><rect x="179.26" y="231.55" width="7.16" height="7.33" fill="#fdd2a5"/><rect x="185.72" y="231.55" width="7.16" height="7.33" fill="#fdd7af"/><rect x="192.18" y="231.55" width="7.16" height="7.33" fill="#fddbb8"/><rect x="198.64" y="231.55" width="7.16" height="7.33" fill="#fedfbf"/><rect x="205.10" y="231.55" width="7.16" height="7.33" fill="#fee2c5"/><rect x="211.56" y="231.55" width="7.16" height="7.33" fill="#fee4cb"/><rect x="218.03" y="231.55" width="7.16" height="7.33" fill="#fee6cf"/><rect x="224.49" y="231.55" width="7.16" height="7.33" fill="#fee8d2"/><rect x="230.95" y="231.55" width="7.16" height="7.33" fill="#fee9d4"/><rect x="237.41" y="231.55" width="7.16" height="7.33" fill="#feead6"/><rect x="243.87" y="231.55" width="7.16" height="7.33" fill="#feebd7"/><rect x="250.33" y="231.55" width="7.16" height="7.33" fill="#feecd9"/><rect x="256.79" y="231.55" width="7.16" height="7.33" fill="#feecda"/><rect x="263.25" y="231.55" width="7.16" height="7.33" fill="#feeddb"/><rect x="269.71" y="231.55" width="7.16" height="7.33" fill="#feeddc"/><rect x="276.17" y="231.55" width="13.62" height="7.33" fill="#ffeedd"/>
<rect x="56.50" y="238.18" width="7.16" height="7.33" fill="#7f2704"/><rect x="62.96" y="238.18" width="7.16" height="7.33" fill="#fd9446"/><rect x="69.42" y="238.18" width="7.16" height="7.33" fill="#fd9a4f"/><rect x="75.88" y="238.18" width="7.16" height="7.33" fill="#fda158"/><rect x="82.34" y="238.18" width="7.16" height="7.33" fill="#fda761"/><rect x="88.81" y="238.18" width="7.16" height="7.33" fill="#fdae6b"/><rect x="95.27" y="238.18" width="7.16" height="7.33" fill="#fdb576"/><rect x="101.73" y="238.18" width="7.16" height="7.33" fill="#fdbc82"/><rect x="108.19" y="238.18" width="7.16" height="7.33" fill="#fdc38d"/><rect x="114.65" y="238.18" width="7.16" height="7.33" fill="#fdcb99"/><rect x="121.11" y="238.18" width="7.16" height="7.33" fill="#fdd2a6"/><rect x="127.57" y="238.18" width="7.16" height="7.33" fill="#fdd9b4"/><rect x="134.03" y="238.18" width="7.16" height="7.33" fill="#fee1c3"/><rect x="140.49" y="238.18" width="7.16" height="7.33" fill="#fee7d0"/><rect x="146.95" y="238.18" width="7.16" height="7.33" fill="#feead5"/><rect x="153.42" y="238.18" width="7.16" height="7.33" fill="#feecd9"/><rect x="159.88" y="238.18" width="7.16" height="7.33" fill="#feeddb"/><rect x="166.34" y="238.18" width="7.16" height="7.33" fill="#ffeedd"/><rect x="172.80" y="238.18" width="7.16" height="7.33" fill="#fdca98"/><rect x="179.26" y="238.18" width="7.16" height="7.33" fill="#fdd2a5"/><rect x="185.72" y="238.18" width="7.16" height="7.33" fill="#fdd7af"/><rect x="192.18" y="238.18" width="7.16" height="7.33" fill="#fddbb8"/><rect x="198.64" y="238.18" width="7.16" height="7.33" fill="#fedfbf"/><rect x="205.10" y="238.18" width="7.16" height="7.33" fill="#fee2c5"/><rect x="211.56" y="238.18" width="7.16" height="7.33" fill="#fee4cb"/><rect x="218.03" y="238.18" width="7.16" height="7.33" fill="#fee6cf"/><rect x="224.49" y="238.18" width="7.16" height="7.33" fill="#fee8d2"/><rect x="230.95" y="238.18" width="7.16" height="7.33" fill="#fee9d4"/><rect x="237.41" y="238.18" width="7.16" height="7.33" fill="#feead6"/><rect x="243.87" y="238.18" width="7.16" height="7.33" fill="#feebd7"/><rect x="250.33" y="238.18" width="7.16" height="7.33" fill="#feecd9"/><rect x="256.79" y="238.18" width="7.16" height="7.33" fill="#feecda"/><rect x="263.25" y="238.18" width="7.16" height="7.33" fill="#feeddb"/><rect x="269.71" y="238.18" width="7.16" height="7.33" fill="#feeddc"/><rect x="276.17" y="238.18" width="13.62" height="7.33" fill="#ffeedd"/>
</g></g>
<rect x="53.50" y="10.20" width="232.20" height="237.40" fill="none" stroke="#222" stroke-width="0.55"/>
<path d="M63.00 247.60v-8.60M63.00 10.20v8.60M53.50 237.89h8.60M285.70 237.89h-8.60M108.50 247.60v-8.60M108.50 10.20v8.60M53.50 191.37h8.60M285.70 191.37h-8.60M159.70 247.60v-8.60M159.70 10.20v8.60M53.50 139.02h8.60M285.70 139.02h-8.60M185.60 247.60v-8.60M185.60 10.20v8.60M53.50 112.54h8.60M285.70 112.54h-8.60M230.50 247.60v-8.60M230.50 10.20v8.60M53.50 66.64h8.60M285.70 66.64h-8.60M282.00 247.60v-8.60M282.00 10.20v8.60M53.50 13.98h8.60M285.70 13.98h-8.60M74.50 247.60v-4.00M74.50 10.20v4.00M53.50 226.13h4.00M285.70 226.13h-4.00M85.80 247.60v-4.00M85.80 10.20v4.00M53.50 214.58h4.00M285.70 214.58h-4.00M97.20 247.60v-4.00M97.20 10.20v4.00M53.50 202.92h4.00M285.70 202.92h-4.00M108.50 247.60v-4.00M108.50 10.20v4.00M53.50 191.37h4.00M285.70 191.37h-4.00M119.60 247.60v-4.00M119.60 10.20v4.00M53.50 180.02h4.00M285.70 180.02h-4.00M130.90 247.60v-4.00M130.90 10.20v4.00M53.50 168.47h4.00M285.70 168.47h-4.00M142.10 247.60v-4.00M142.10 10.20v4.00M53.50 157.02h4.00M285.70 157.02h-4.00M164.60 247.60v-4.00M164.60 10.20v4.00M53.50 134.01h4.00M285.70 134.01h-4.00M176.00 247.60v-4.00M176.00 10.20v4.00M53.50 122.36h4.00M285.70 122.36h-4.00M187.40 247.60v-4.00M187.40 10.20v4.00M53.50 110.70h4.00M285.70 110.70h-4.00M209.60 247.60v-4.00M209.60 10.20v4.00M53.50 88.00h4.00M285.70 88.00h-4.00M221.10 247.60v-4.00M221.10 10.20v4.00M53.50 76.25h4.00M285.70 76.25h-4.00M232.30 247.60v-4.00M232.30 10.20v4.00M53.50 64.80h4.00M285.70 64.80h-4.00M254.60 247.60v-4.00M254.60 10.20v4.00M53.50 42.00h4.00M285.70 42.00h-4.00M266.10 247.60v-4.00M266.10 10.20v4.00M53.50 30.24h4.00M285.70 30.24h-4.00M277.40 247.60v-4.00M277.40 10.20v4.00M53.50 18.69h4.00M285.70 18.69h-4.00" stroke="#444" stroke-width="1.0" fill="none"/>
<rect x="300.00" y="10.30" width="12.00" height="237.50" fill="url(#cb)" stroke="#777" stroke-width="0.5"/>
<text x="314.8" y="238.90">0.1</text>
<text x="314.8" y="213.90">0.2</text>
<text x="314.8" y="188.90">0.3</text>
<text x="314.8" y="163.90">0.4</text>
<text x="314.8" y="138.90">0.5</text>
<text x="314.8" y="113.90">0.6</text>
<text x="314.8" y="88.90">0.7</text>
<text x="314.8" y="63.90">0.8</text>
<text x="314.8" y="38.90">0.9</text>
<text x="314.8" y="13.90">1.0</text>
<path d="M312.00 235.30h-9M312.00 210.30h-9M312.00 185.30h-9M312.00 160.30h-9M312.00 135.30h-9M312.00 110.30h-9M312.00 85.30h-9M312.00 60.30h-9M312.00 35.30h-9" stroke="#1a1a1a" stroke-width="0.9" fill="none"/>
<text x="65.1" y="29.4" style="font-weight:bold;font-style:italic">ATLAS</text>
<text x="64.4" y="41.2" font-size="11.25">PYTHIA8 Dijet 8 TeV</text>
<text x="63.05" y="259.8" font-size="12" text-anchor="middle">30</text>
<text x="107.80" y="259.8" font-size="12" text-anchor="middle">300</text>
<text x="159.40" y="259.8" font-size="12" text-anchor="middle">2500</text>
<text x="185.80" y="259.8" font-size="12" text-anchor="middle">30</text>
<text x="229.30" y="259.8" font-size="12" text-anchor="middle">300</text>
<text x="282.80" y="259.8" font-size="12" text-anchor="middle">2500</text>
<g transform="translate(86.9 273.2)"><path d="M0.55 -9.8V2.5M10.25 -9.8V2.5" stroke="#555" stroke-width="0.75" fill="none"/><text class="eta" x="2.00" y="0" font-size="13" fill="#2a2a2a">&#951;</text><path d="M22.90 -7.5L15.70 -3.9L22.90 -0.3" stroke="#2a2a2a" stroke-width="0.95" fill="none" stroke-linejoin="miter"/><text x="27.6" y="0" font-size="12">0.6</text></g>
<g transform="translate(191.7 272.8)"><text x="-0.2" y="0" font-size="12">0.6</text><path d="M28.30 -7.5L21.10 -3.9L28.30 -0.3" stroke="#2a2a2a" stroke-width="0.95" fill="none" stroke-linejoin="miter"/><path d="M34.15 -9.8V2.5M43.85 -9.8V2.5" stroke="#555" stroke-width="0.75" fill="none"/><text class="eta" x="35.60" y="0" font-size="13" fill="#2a2a2a">&#951;</text><path d="M56.60 -7.5L49.40 -3.9L56.60 -0.3" stroke="#2a2a2a" stroke-width="0.95" fill="none" stroke-linejoin="miter"/><text x="60.9" y="0" font-size="12" textLength="15.2" lengthAdjust="spacingAndGlyphs">1.1</text></g>
<g transform="translate(201.1 286.4)"><text y="0" font-size="12.5"><tspan x="-0.5">l</tspan><tspan x="2.20">o</tspan><tspan x="10.00">g</tspan><tspan x="17.80">(</tspan></text><text x="21.60" y="0" font-size="12.5" class="it">p</text><text x="27.00" y="4.7" font-size="8" class="it">T</text><text x="29.20" y="-4.5" font-size="8.6">jet1</text><text x="44.60" y="0" font-size="12.5">)</text><text x="51.80" y="0" font-size="12" textLength="32.3" lengthAdjust="spacingAndGlyphs">[GeV]</text></g>
<text transform="translate(49.4 237.75) rotate(-90)" font-size="12" text-anchor="middle">30</text>
<text transform="translate(49.4 192.20) rotate(-90)" font-size="12" text-anchor="middle">300</text>
<text transform="translate(49.4 138.60) rotate(-90)" font-size="12" text-anchor="middle">2500</text>
<text transform="translate(49.4 113.25) rotate(-90)" font-size="12" text-anchor="middle">30</text>
<text transform="translate(49.4 67.20) rotate(-90)" font-size="12" text-anchor="middle">300</text>
<text transform="translate(49.4 13.70) rotate(-90)" font-size="12" text-anchor="middle">2500</text>
<g transform="translate(33.6 213.7) rotate(-90)"><path d="M0.55 -9.8V2.5M10.25 -9.8V2.5" stroke="#555" stroke-width="0.75" fill="none"/><text class="eta" x="2.00" y="0" font-size="13" fill="#2a2a2a">&#951;</text><path d="M22.90 -7.5L15.70 -3.9L22.90 -0.3" stroke="#2a2a2a" stroke-width="0.95" fill="none" stroke-linejoin="miter"/><text x="27.6" y="0" font-size="12">0.6</text></g>
<g transform="translate(33.6 106.0) rotate(-90)"><text x="-0.2" y="0" font-size="12">0.6</text><path d="M28.30 -7.5L21.10 -3.9L28.30 -0.3" stroke="#2a2a2a" stroke-width="0.95" fill="none" stroke-linejoin="miter"/><path d="M34.15 -9.8V2.5M43.85 -9.8V2.5" stroke="#555" stroke-width="0.75" fill="none"/><text class="eta" x="35.60" y="0" font-size="13" fill="#2a2a2a">&#951;</text><path d="M56.60 -7.5L49.40 -3.9L56.60 -0.3" stroke="#2a2a2a" stroke-width="0.95" fill="none" stroke-linejoin="miter"/><text x="60.9" y="0" font-size="12" textLength="15.2" lengthAdjust="spacingAndGlyphs">1.1</text></g>
<g transform="translate(12.0 95.0) rotate(-90)"><text y="0" font-size="12.5"><tspan x="-0.5">l</tspan><tspan x="1.80">o</tspan><tspan x="9.00">g</tspan><tspan x="16.10">(</tspan></text><text x="22.30" y="0" font-size="12.5" class="it">p</text><text x="28.00" y="4.7" font-size="8" class="it">T</text><text x="29.30" y="-4.5" font-size="8.6">jet2</text><text x="44.80" y="0" font-size="12.5">)</text><text x="52.80" y="0" font-size="12" textLength="32.3" lengthAdjust="spacingAndGlyphs">[GeV]</text></g>
</svg>
</body></html>
